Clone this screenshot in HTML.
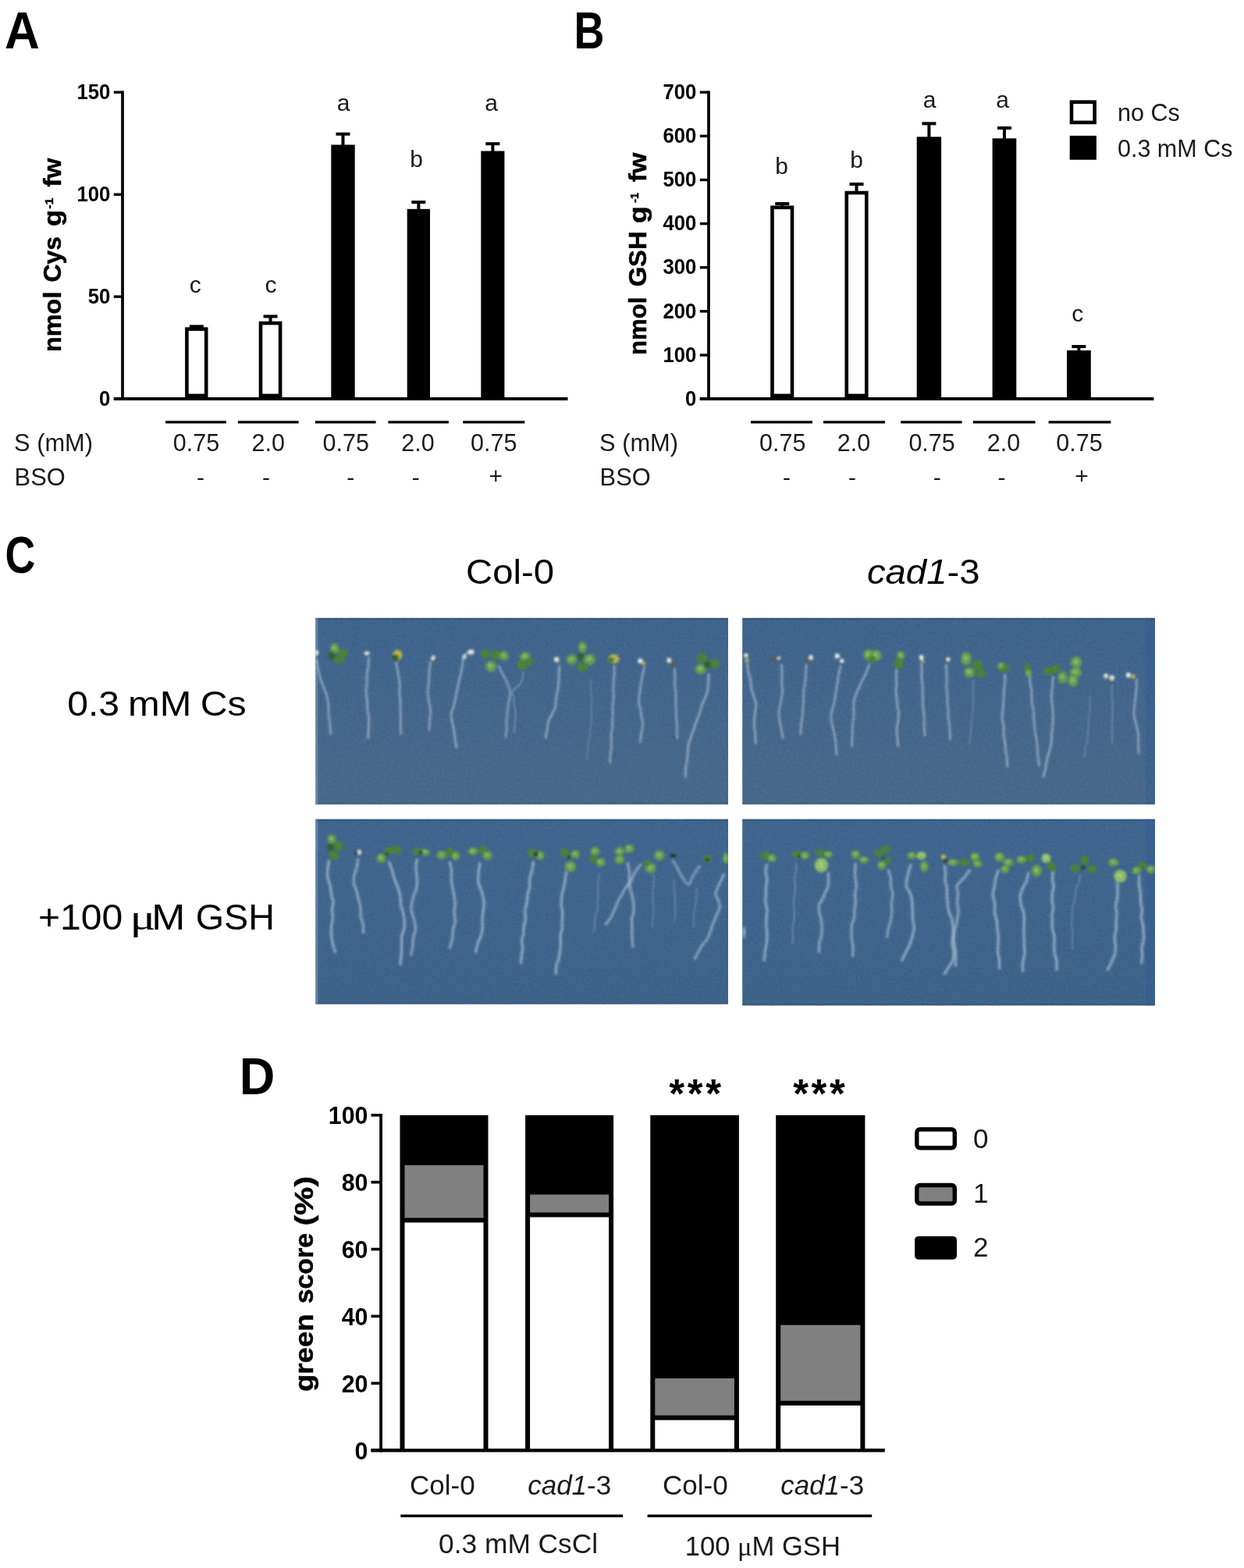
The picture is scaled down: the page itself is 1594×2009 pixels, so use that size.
<!DOCTYPE html>
<html lang="en">
<head>
<meta charset="utf-8">
<title>Figure</title>
<style>
html,body{margin:0;padding:0;background:#fff;}
body{width:1594px;height:2009px;overflow:hidden;}
svg{display:block;}
text{font-family:"Liberation Sans",sans-serif;fill:#1a1a1a;}
.b{font-weight:bold;fill:#000;}
.yl{stroke:#000;stroke-width:0.5px;}
.pl{font-weight:bold;fill:#000;}
.i{font-style:italic;}
.ax{stroke:#000;fill:none;}
</style>
</head>
<body>
<svg width="1594" height="2009" viewBox="0 0 1594 2009">
<rect width="1594" height="2009" fill="#fff"/>
<text x="5.9" y="61.6" font-size="66" class="pl" textLength="44.8" lengthAdjust="spacingAndGlyphs">A</text>
<text x="735.5" y="61.6" font-size="66" class="pl" textLength="39" lengthAdjust="spacingAndGlyphs">B</text>
<text x="6.5" y="733.6" font-size="66" class="pl" textLength="38.8" lengthAdjust="spacingAndGlyphs">C</text>
<text x="306.8" y="1402.3" font-size="66" class="pl" textLength="45.6" lengthAdjust="spacingAndGlyphs">D</text>
<line x1="157" y1="116.5" x2="157" y2="513.1" stroke="#000" stroke-width="3.7"/>
<line x1="145.8" y1="511.1" x2="727.5" y2="511.1" stroke="#000" stroke-width="4"/>
<line x1="145.8" y1="118.2" x2="157" y2="118.2" stroke="#000" stroke-width="3.4"/>
<text x="141.4" y="126.9" font-size="27" text-anchor="end" class="b" textLength="43.0" lengthAdjust="spacingAndGlyphs">150</text>
<line x1="145.8" y1="249.2" x2="157" y2="249.2" stroke="#000" stroke-width="3.4"/>
<text x="141.4" y="257.9" font-size="27" text-anchor="end" class="b" textLength="43.0" lengthAdjust="spacingAndGlyphs">100</text>
<line x1="145.8" y1="380.1" x2="157" y2="380.1" stroke="#000" stroke-width="3.4"/>
<text x="141.4" y="388.8" font-size="27" text-anchor="end" class="b" textLength="28.7" lengthAdjust="spacingAndGlyphs">50</text>
<line x1="145.8" y1="511.1" x2="157" y2="511.1" stroke="#000" stroke-width="3.4"/>
<text x="141.4" y="519.8000000000001" font-size="27" text-anchor="end" class="b" textLength="14.3" lengthAdjust="spacingAndGlyphs">0</text>
<line x1="251.8" y1="418.3" x2="251.8" y2="421.3" stroke="#000" stroke-width="4"/>
<line x1="242.8" y1="418.3" x2="260.8" y2="418.3" stroke="#000" stroke-width="4"/>
<rect x="239.40" y="421.60" width="24.80" height="85.30" fill="#fff" stroke="#000" stroke-width="4.6"/>
<line x1="346.54999999999995" y1="405.4" x2="346.54999999999995" y2="413.7" stroke="#000" stroke-width="4"/>
<line x1="337.54999999999995" y1="405.4" x2="355.54999999999995" y2="405.4" stroke="#000" stroke-width="4"/>
<rect x="334.00" y="414.00" width="25.10" height="92.90" fill="#fff" stroke="#000" stroke-width="4.6"/>
<line x1="439.5" y1="171.7" x2="439.5" y2="187.5" stroke="#000" stroke-width="4"/>
<line x1="430.5" y1="171.7" x2="448.5" y2="171.7" stroke="#000" stroke-width="4"/>
<rect x="424.30" y="185.50" width="30.40" height="325.60" fill="#000"/>
<line x1="536.35" y1="259" x2="536.35" y2="269.8" stroke="#000" stroke-width="4"/>
<line x1="527.35" y1="259" x2="545.35" y2="259" stroke="#000" stroke-width="4"/>
<rect x="521.70" y="267.80" width="29.30" height="243.30" fill="#000"/>
<line x1="631.3499999999999" y1="184.2" x2="631.3499999999999" y2="195.5" stroke="#000" stroke-width="4"/>
<line x1="622.3499999999999" y1="184.2" x2="640.3499999999999" y2="184.2" stroke="#000" stroke-width="4"/>
<rect x="616.30" y="193.50" width="30.10" height="317.60" fill="#000"/>
<text x="250.3" y="375" font-size="30" text-anchor="middle">c</text>
<text x="346.9" y="375" font-size="30" text-anchor="middle">c</text>
<text x="440.2" y="142" font-size="30" text-anchor="middle">a</text>
<text x="533.6" y="214" font-size="30" text-anchor="middle">b</text>
<text x="629.5" y="142" font-size="30" text-anchor="middle">a</text>
<line x1="212" y1="540.9" x2="289.8" y2="540.9" stroke="#000" stroke-width="3.4"/>
<line x1="304.9" y1="540.9" x2="382.7" y2="540.9" stroke="#000" stroke-width="3.4"/>
<line x1="403.8" y1="540.9" x2="481.6" y2="540.9" stroke="#000" stroke-width="3.4"/>
<line x1="497.4" y1="540.9" x2="574.9" y2="540.9" stroke="#000" stroke-width="3.4"/>
<line x1="593.2" y1="540.9" x2="672.3" y2="540.9" stroke="#000" stroke-width="3.4"/>
<text x="251.5" y="578.3" font-size="30.5" text-anchor="middle">0.75</text>
<text x="343.8" y="578.3" font-size="30.5" text-anchor="middle">2.0</text>
<text x="443.3" y="578.3" font-size="30.5" text-anchor="middle">0.75</text>
<text x="535.5" y="578.3" font-size="30.5" text-anchor="middle">2.0</text>
<text x="632.7" y="578.3" font-size="30.5" text-anchor="middle">0.75</text>
<text x="257" y="622" font-size="30" text-anchor="middle">-</text>
<text x="341" y="622" font-size="30" text-anchor="middle">-</text>
<text x="449.3" y="622" font-size="30" text-anchor="middle">-</text>
<text x="532.7" y="622" font-size="30" text-anchor="middle">-</text>
<text x="635.3" y="619.8" font-size="30" text-anchor="middle">+</text>
<text x="18.1" y="578.3" font-size="30.8" text-anchor="start">S (mM)</text>
<text x="18.6" y="621.5" font-size="30.8" text-anchor="start">BSO</text>
<text transform="translate(78,451) rotate(-90)" font-size="30.5" class="b yl"><tspan x="0.0" y="0.0" textLength="77.4" lengthAdjust="spacingAndGlyphs">nmol</tspan> <tspan x="89.4" y="0.0" textLength="58.6" lengthAdjust="spacingAndGlyphs">Cys</tspan> <tspan x="160.9" y="0.0" textLength="21.2" lengthAdjust="spacingAndGlyphs">g</tspan><tspan x="183.6" y="-10.5" font-size="15.5">-1</tspan> <tspan x="211.4" y="0.0" textLength="36.9" lengthAdjust="spacingAndGlyphs">fw</tspan></text>
<line x1="908" y1="116.5" x2="908" y2="513.1" stroke="#000" stroke-width="3.7"/>
<line x1="896.8" y1="511.1" x2="1478.4" y2="511.1" stroke="#000" stroke-width="4"/>
<line x1="896.8" y1="118.2" x2="908" y2="118.2" stroke="#000" stroke-width="3.4"/>
<text x="892.4" y="126.9" font-size="27" text-anchor="end" class="b" textLength="43.0" lengthAdjust="spacingAndGlyphs">700</text>
<line x1="896.8" y1="174.33" x2="908" y2="174.33" stroke="#000" stroke-width="3.4"/>
<text x="892.4" y="183.03" font-size="27" text-anchor="end" class="b" textLength="43.0" lengthAdjust="spacingAndGlyphs">600</text>
<line x1="896.8" y1="230.46" x2="908" y2="230.46" stroke="#000" stroke-width="3.4"/>
<text x="892.4" y="239.16" font-size="27" text-anchor="end" class="b" textLength="43.0" lengthAdjust="spacingAndGlyphs">500</text>
<line x1="896.8" y1="286.59000000000003" x2="908" y2="286.59000000000003" stroke="#000" stroke-width="3.4"/>
<text x="892.4" y="295.29" font-size="27" text-anchor="end" class="b" textLength="43.0" lengthAdjust="spacingAndGlyphs">400</text>
<line x1="896.8" y1="342.72" x2="908" y2="342.72" stroke="#000" stroke-width="3.4"/>
<text x="892.4" y="351.42" font-size="27" text-anchor="end" class="b" textLength="43.0" lengthAdjust="spacingAndGlyphs">300</text>
<line x1="896.8" y1="398.85" x2="908" y2="398.85" stroke="#000" stroke-width="3.4"/>
<text x="892.4" y="407.55" font-size="27" text-anchor="end" class="b" textLength="43.0" lengthAdjust="spacingAndGlyphs">200</text>
<line x1="896.8" y1="454.98" x2="908" y2="454.98" stroke="#000" stroke-width="3.4"/>
<text x="892.4" y="463.68" font-size="27" text-anchor="end" class="b" textLength="43.0" lengthAdjust="spacingAndGlyphs">100</text>
<line x1="896.8" y1="511.11" x2="908" y2="511.11" stroke="#000" stroke-width="3.4"/>
<text x="892.4" y="519.8100000000001" font-size="27" text-anchor="end" class="b" textLength="14.3" lengthAdjust="spacingAndGlyphs">0</text>
<line x1="1002.25" y1="261" x2="1002.25" y2="265.5" stroke="#000" stroke-width="4"/>
<line x1="993.25" y1="261" x2="1011.25" y2="261" stroke="#000" stroke-width="4"/>
<rect x="989.50" y="265.80" width="25.50" height="241.10" fill="#fff" stroke="#000" stroke-width="4.6"/>
<line x1="1097.55" y1="235.9" x2="1097.55" y2="246.7" stroke="#000" stroke-width="4"/>
<line x1="1088.55" y1="235.9" x2="1106.55" y2="235.9" stroke="#000" stroke-width="4"/>
<rect x="1084.80" y="247.00" width="25.50" height="259.90" fill="#fff" stroke="#000" stroke-width="4.6"/>
<line x1="1190.4" y1="158.3" x2="1190.4" y2="177.3" stroke="#000" stroke-width="4"/>
<line x1="1181.4" y1="158.3" x2="1199.4" y2="158.3" stroke="#000" stroke-width="4"/>
<rect x="1174.70" y="175.30" width="31.40" height="335.80" fill="#000"/>
<line x1="1286.9499999999998" y1="164" x2="1286.9499999999998" y2="179.3" stroke="#000" stroke-width="4"/>
<line x1="1277.9499999999998" y1="164" x2="1295.9499999999998" y2="164" stroke="#000" stroke-width="4"/>
<rect x="1271.60" y="177.30" width="30.70" height="333.80" fill="#000"/>
<line x1="1382.4" y1="444" x2="1382.4" y2="450.9" stroke="#000" stroke-width="4"/>
<line x1="1373.4" y1="444" x2="1391.4" y2="444" stroke="#000" stroke-width="4"/>
<rect x="1367.00" y="448.90" width="30.80" height="62.20" fill="#000"/>
<text x="1001.6" y="223" font-size="30" text-anchor="middle">b</text>
<text x="1097.5" y="214.5" font-size="30" text-anchor="middle">b</text>
<text x="1191.2" y="138.3" font-size="30" text-anchor="middle">a</text>
<text x="1284.6" y="138.3" font-size="30" text-anchor="middle">a</text>
<text x="1380.7" y="411.8" font-size="30" text-anchor="middle">c</text>
<line x1="962" y1="540.9" x2="1041" y2="540.9" stroke="#000" stroke-width="3.4"/>
<line x1="1055" y1="540.9" x2="1134" y2="540.9" stroke="#000" stroke-width="3.4"/>
<line x1="1154.2" y1="540.9" x2="1232.6" y2="540.9" stroke="#000" stroke-width="3.4"/>
<line x1="1246.8" y1="540.9" x2="1326.6" y2="540.9" stroke="#000" stroke-width="3.4"/>
<line x1="1343.6" y1="540.9" x2="1423.4" y2="540.9" stroke="#000" stroke-width="3.4"/>
<text x="1002.8" y="578.3" font-size="30.5" text-anchor="middle">0.75</text>
<text x="1094" y="578.3" font-size="30.5" text-anchor="middle">2.0</text>
<text x="1194.1" y="578.3" font-size="30.5" text-anchor="middle">0.75</text>
<text x="1286" y="578.3" font-size="30.5" text-anchor="middle">2.0</text>
<text x="1383" y="578.3" font-size="30.5" text-anchor="middle">0.75</text>
<text x="1008" y="622" font-size="30" text-anchor="middle">-</text>
<text x="1092" y="622" font-size="30" text-anchor="middle">-</text>
<text x="1200.7" y="622" font-size="30" text-anchor="middle">-</text>
<text x="1283.5" y="622" font-size="30" text-anchor="middle">-</text>
<text x="1386" y="619.8" font-size="30" text-anchor="middle">+</text>
<text x="768.1" y="578.3" font-size="30.8" text-anchor="start">S (mM)</text>
<text x="768.6" y="621.5" font-size="30.8" text-anchor="start">BSO</text>
<text transform="translate(828,455.1) rotate(-90)" font-size="30.5" class="b yl"><tspan x="0.0" y="0.0" textLength="74.5" lengthAdjust="spacingAndGlyphs">nmol</tspan> <tspan x="87.8" y="0.0" textLength="70.8" lengthAdjust="spacingAndGlyphs">GSH</tspan> <tspan x="169.1" y="0.0" textLength="21.7" lengthAdjust="spacingAndGlyphs">g</tspan><tspan x="195.4" y="-10.5" font-size="14.5">-1</tspan> <tspan x="221.9" y="0.0" textLength="37.6" lengthAdjust="spacingAndGlyphs">fw</tspan></text>
<rect x="1373.00" y="130.70" width="29.60" height="26.20" fill="#fff" stroke="#000" stroke-width="4.6"/>
<rect x="1370.70" y="173.90" width="34.20" height="30.80" fill="#000"/>
<text x="1432" y="155.4" font-size="30.5" text-anchor="start">no Cs</text>
<text x="1432" y="201" font-size="30.5" text-anchor="start">0.3 mM Cs</text>
<text x="653.5" y="747.8" font-size="45" text-anchor="middle" textLength="113" lengthAdjust="spacingAndGlyphs" style="fill:#000">Col-0</text>
<text x="1183.2" y="747.8" font-size="45" text-anchor="middle" textLength="144.6" lengthAdjust="spacingAndGlyphs" style="fill:#000"><tspan class="i">cad1</tspan>-3</text>
<text y="917.3" font-size="45" style="fill:#000"><tspan x="86.2" textLength="66.9" lengthAdjust="spacingAndGlyphs">0.3</tspan> <tspan x="164" textLength="81.3" lengthAdjust="spacingAndGlyphs">mM</tspan> <tspan x="256.8" textLength="58.9" lengthAdjust="spacingAndGlyphs">Cs</tspan></text>
<text y="1191.3" font-size="45.5" style="fill:#000"><tspan x="49" textLength="108.2" lengthAdjust="spacingAndGlyphs">+100</tspan> <tspan x="166.6" font-family="'Liberation Serif',serif" textLength="33" lengthAdjust="spacingAndGlyphs">μ</tspan><tspan x="194.2" textLength="43" lengthAdjust="spacingAndGlyphs">M</tspan> <tspan x="250.8" textLength="101.1" lengthAdjust="spacingAndGlyphs">GSH</tspan></text>
<defs>
<linearGradient id="bg" x1="0" y1="0" x2="0" y2="1"><stop offset="0" stop-color="#3f648d"/><stop offset="1" stop-color="#49698a"/></linearGradient>
<linearGradient id="bgb" x1="0" y1="0" x2="0" y2="1"><stop offset="0" stop-color="#40668f"/><stop offset="1" stop-color="#3e6389"/></linearGradient>
<filter id="bl" x="-20%" y="-20%" width="140%" height="140%"><feGaussianBlur stdDeviation="1.15"/></filter>
<filter id="bl2" x="-50%" y="-50%" width="200%" height="200%"><feGaussianBlur stdDeviation="1.7"/></filter>
<filter id="grain" x="0" y="0" width="100%" height="100%"><feTurbulence type="fractalNoise" baseFrequency="0.35" numOctaves="2" seed="7" result="n"/><feColorMatrix in="n" type="matrix" values="0 0 0 0 1  0 0 0 0 1  0 0 0 0 1  0.9 0 0 0 -0.38"/></filter>
<filter id="grain2" x="0" y="0" width="100%" height="100%"><feTurbulence type="fractalNoise" baseFrequency="0.3" numOctaves="2" seed="23" result="n"/><feColorMatrix in="n" type="matrix" values="0 0 0 0 0  0 0 0 0 0.05  0 0 0 0 0.15  0.9 0 0 0 -0.38"/></filter>
</defs>
<g id="photo1">
<clipPath id="cp0"><rect x="404.2" y="791.8" width="528.8" height="238.8"/></clipPath>
<rect x="404.2" y="791.8" width="528.8" height="238.8" fill="url(#bg)"/>
<rect x="404.2" y="791.8" width="528.8" height="2.2" fill="#1d2c40" opacity="0.28"/>
<rect x="404.2" y="1028.6" width="528.8" height="2" fill="#1d2c40" opacity="0.18"/>
<rect x="404.2" y="791.8" width="3.2" height="238.8" fill="#c8d2e0" opacity="0.28"/>
<g clip-path="url(#cp0)">
<g filter="url(#bl)" fill="none" stroke="#b3c3d9" stroke-width="2.7" stroke-linecap="round" stroke-linejoin="round">
<path d="M405.8,846.8 C406.2,848.8 407.1,855.0 408.0,859.1 C408.9,863.2 409.8,867.3 411.1,871.3 C412.4,875.4 414.4,879.4 415.9,883.5 C417.3,887.6 419.1,892.0 419.9,895.9 C420.7,899.8 420.5,903.2 420.7,906.9 C421.0,910.6 420.8,914.3 421.2,917.9 C421.6,921.6 422.6,925.2 422.9,928.8 C423.3,932.5 423.3,938.0 423.4,939.8" stroke-opacity="0.11" stroke-width="6.2"/>
<path d="M405.8,846.8 C406.2,848.8 407.1,855.0 408.0,859.1 C408.9,863.2 409.8,867.3 411.1,871.3 C412.4,875.4 414.4,879.4 415.9,883.5 C417.3,887.6 419.1,892.0 419.9,895.9 C420.7,899.8 420.5,903.2 420.7,906.9 C421.0,910.6 420.8,914.3 421.2,917.9 C421.6,921.6 422.6,925.2 422.9,928.8 C423.3,932.5 423.3,938.0 423.4,939.8" stroke-opacity="0.52" stroke-width="2.7"/>
<path d="M472.6,843.2 C472.4,845.0 472.2,850.3 471.9,853.8 C471.5,857.3 470.6,860.8 470.3,864.3 C470.0,867.8 470.4,871.4 470.2,874.9 C470.0,878.4 469.0,881.7 469.0,885.4 C469.1,889.1 470.1,893.2 470.4,897.1 C470.7,901.0 470.5,905.0 470.9,908.9 C471.3,912.8 472.3,916.5 472.6,920.5 C472.8,924.5 472.5,928.7 472.4,932.8 C472.2,936.9 471.6,943.1 471.5,945.1" stroke-opacity="0.12" stroke-width="6.2"/>
<path d="M472.6,843.2 C472.4,845.0 472.2,850.3 471.9,853.8 C471.5,857.3 470.6,860.8 470.3,864.3 C470.0,867.8 470.4,871.4 470.2,874.9 C470.0,878.4 469.0,881.7 469.0,885.4 C469.1,889.1 470.1,893.2 470.4,897.1 C470.7,901.0 470.5,905.0 470.9,908.9 C471.3,912.8 472.3,916.5 472.6,920.5 C472.8,924.5 472.5,928.7 472.4,932.8 C472.2,936.9 471.6,943.1 471.5,945.1" stroke-opacity="0.55" stroke-width="2.7"/>
<path d="M507.7,848.5 C508.0,850.2 508.8,855.1 509.3,858.4 C509.9,861.7 510.6,865.0 511.1,868.4 C511.6,871.7 512.1,874.9 512.3,878.4 C512.4,881.8 511.9,885.4 512.0,888.9 C512.1,892.4 512.7,895.9 512.9,899.4 C513.0,903.0 512.9,906.6 513.0,910.0 C513.1,913.4 513.5,916.6 513.5,919.9 C513.5,923.3 512.9,926.6 512.9,929.9 C513.0,933.2 513.5,938.2 513.7,939.8" stroke-opacity="0.11" stroke-width="6.2"/>
<path d="M507.7,848.5 C508.0,850.2 508.8,855.1 509.3,858.4 C509.9,861.7 510.6,865.0 511.1,868.4 C511.6,871.7 512.1,874.9 512.3,878.4 C512.4,881.8 511.9,885.4 512.0,888.9 C512.1,892.4 512.7,895.9 512.9,899.4 C513.0,903.0 512.9,906.6 513.0,910.0 C513.1,913.4 513.5,916.6 513.5,919.9 C513.5,923.3 512.9,926.6 512.9,929.9 C513.0,933.2 513.5,938.2 513.7,939.8" stroke-opacity="0.52" stroke-width="2.7"/>
<path d="M551.6,848.5 C551.4,850.0 550.6,854.6 550.3,857.7 C550.0,860.8 549.9,863.9 549.8,866.9 C549.6,870.0 549.7,873.1 549.4,876.2 C549.1,879.3 548.1,881.8 548.1,885.4 C548.1,889.0 548.9,893.7 549.4,897.7 C550.0,901.8 551.4,905.9 551.6,910.0 C551.8,914.1 551.0,918.2 550.7,922.3 C550.4,926.4 550.0,932.5 549.8,934.6" stroke-opacity="0.11" stroke-width="6.2"/>
<path d="M551.6,848.5 C551.4,850.0 550.6,854.6 550.3,857.7 C550.0,860.8 549.9,863.9 549.8,866.9 C549.6,870.0 549.7,873.1 549.4,876.2 C549.1,879.3 548.1,881.8 548.1,885.4 C548.1,889.0 548.9,893.7 549.4,897.7 C550.0,901.8 551.4,905.9 551.6,910.0 C551.8,914.1 551.0,918.2 550.7,922.3 C550.4,926.4 550.0,932.5 549.8,934.6" stroke-opacity="0.52" stroke-width="2.7"/>
<path d="M600.8,835.5 C599.6,836.5 595.1,838.9 593.8,841.5 C592.4,844.1 593.3,848.0 592.9,851.2 C592.4,854.4 591.7,857.3 591.0,860.8 C590.2,864.3 589.0,868.6 588.1,872.5 C587.2,876.4 586.4,880.3 585.6,884.2 C584.8,888.1 584.0,892.3 583.2,895.9 C582.5,899.5 582.0,902.5 581.1,905.7 C580.2,908.9 578.2,912.1 578.0,915.3 C577.7,918.5 578.9,921.7 579.4,925.0 C580.0,928.2 580.9,931.1 581.5,934.6 C582.1,938.1 582.4,942.2 583.0,946.0 C583.6,949.8 584.7,955.5 585.0,957.4" stroke-opacity="0.12" stroke-width="6.2"/>
<path d="M600.8,835.5 C599.6,836.5 595.1,838.9 593.8,841.5 C592.4,844.1 593.3,848.0 592.9,851.2 C592.4,854.4 591.7,857.3 591.0,860.8 C590.2,864.3 589.0,868.6 588.1,872.5 C587.2,876.4 586.4,880.3 585.6,884.2 C584.8,888.1 584.0,892.3 583.2,895.9 C582.5,899.5 582.0,902.5 581.1,905.7 C580.2,908.9 578.2,912.1 578.0,915.3 C577.7,918.5 578.9,921.7 579.4,925.0 C580.0,928.2 580.9,931.1 581.5,934.6 C582.1,938.1 582.4,942.2 583.0,946.0 C583.6,949.8 584.7,955.5 585.0,957.4" stroke-opacity="0.55" stroke-width="2.7"/>
<path d="M639.4,853.8 C640.1,855.3 642.0,859.8 643.5,862.7 C644.9,865.7 646.6,867.6 648.2,871.3 C649.9,875.1 652.7,881.5 653.5,885.4 C654.2,889.3 653.2,891.7 652.8,894.8 C652.4,897.9 651.5,901.0 651.1,904.1 C650.6,907.2 650.3,910.3 650.0,913.5 C649.6,916.7 649.1,920.1 649.0,923.4 C648.9,926.8 649.4,930.1 649.3,933.4 C649.1,936.8 648.4,941.7 648.2,943.4" stroke-opacity="0.10" stroke-width="6.2"/>
<path d="M639.4,853.8 C640.1,855.3 642.0,859.8 643.5,862.7 C644.9,865.7 646.6,867.6 648.2,871.3 C649.9,875.1 652.7,881.5 653.5,885.4 C654.2,889.3 653.2,891.7 652.8,894.8 C652.4,897.9 651.5,901.0 651.1,904.1 C650.6,907.2 650.3,910.3 650.0,913.5 C649.6,916.7 649.1,920.1 649.0,923.4 C648.9,926.8 649.4,930.1 649.3,933.4 C649.1,936.8 648.4,941.7 648.2,943.4" stroke-opacity="0.44" stroke-width="2.7"/>
<path d="M671.1,860.8 C670.5,863.1 669.9,870.8 667.5,874.9 C665.2,879.0 658.5,882.1 657.0,885.4 C655.5,888.7 658.0,891.6 658.3,894.7 C658.6,897.9 658.5,901.1 658.9,904.2 C659.2,907.3 660.3,909.9 660.5,913.5 C660.7,917.1 660.3,921.7 660.0,925.8 C659.7,929.9 659.0,936.0 658.8,938.1" stroke-opacity="0.37" stroke-width="2.2"/>
<path d="M716.7,853.8 C716.7,855.3 716.5,860.0 716.3,863.2 C716.2,866.3 716.1,869.4 715.8,872.5 C715.6,875.7 715.5,878.3 715.0,881.9 C714.4,885.5 713.3,890.0 712.7,894.1 C712.1,898.2 712.4,902.9 711.5,906.5 C710.5,910.0 708.7,912.4 707.3,915.4 C705.8,918.3 703.7,920.8 702.7,924.0 C701.7,927.3 701.8,931.1 701.2,934.6 C700.6,938.1 699.5,943.4 699.2,945.1" stroke-opacity="0.12" stroke-width="6.2"/>
<path d="M716.7,853.8 C716.7,855.3 716.5,860.0 716.3,863.2 C716.2,866.3 716.1,869.4 715.8,872.5 C715.6,875.7 715.5,878.3 715.0,881.9 C714.4,885.5 713.3,890.0 712.7,894.1 C712.1,898.2 712.4,902.9 711.5,906.5 C710.5,910.0 708.7,912.4 707.3,915.4 C705.8,918.3 703.7,920.8 702.7,924.0 C701.7,927.3 701.8,931.1 701.2,934.6 C700.6,938.1 699.5,943.4 699.2,945.1" stroke-opacity="0.55" stroke-width="2.7"/>
<path d="M757.1,871.3 C757.1,873.0 756.8,877.9 756.9,881.2 C757.0,884.5 757.4,887.7 757.6,891.0 C757.8,894.3 758.2,897.6 758.2,900.8 C758.2,904.1 757.5,907.4 757.5,910.7 C757.5,914.0 758.3,917.1 758.2,920.5 C758.1,923.9 757.3,927.5 756.9,931.1 C756.6,934.6 756.6,938.2 756.1,941.7 C755.6,945.2 754.4,948.6 753.9,952.1 C753.5,955.6 753.5,959.2 753.2,962.7 C752.8,966.2 752.1,971.5 751.9,973.2" stroke-opacity="0.22" stroke-width="2.2"/>
<path d="M787.0,853.8 C787.0,855.4 787.3,860.4 787.2,863.7 C787.0,867.1 786.3,870.4 786.1,873.7 C785.9,877.0 785.9,880.3 785.9,883.6 C786.0,887.0 786.4,890.3 786.3,893.6 C786.2,896.9 785.4,900.2 785.2,903.5 C785.0,906.9 785.3,910.3 785.2,913.5 C785.1,916.7 784.7,919.5 784.6,922.5 C784.5,925.5 784.9,928.6 784.7,931.6 C784.5,934.6 783.7,937.6 783.4,940.6 C783.1,943.6 783.1,946.6 783.1,949.6 C783.0,952.6 783.4,955.7 783.2,958.7 C783.0,961.7 782.1,964.7 781.9,967.7 C781.6,970.7 781.7,975.2 781.7,976.7" stroke-opacity="0.11" stroke-width="6.2"/>
<path d="M787.0,853.8 C787.0,855.4 787.3,860.4 787.2,863.7 C787.0,867.1 786.3,870.4 786.1,873.7 C785.9,877.0 785.9,880.3 785.9,883.6 C786.0,887.0 786.4,890.3 786.3,893.6 C786.2,896.9 785.4,900.2 785.2,903.5 C785.0,906.9 785.3,910.3 785.2,913.5 C785.1,916.7 784.7,919.5 784.6,922.5 C784.5,925.5 784.9,928.6 784.7,931.6 C784.5,934.6 783.7,937.6 783.4,940.6 C783.1,943.6 783.1,946.6 783.1,949.6 C783.0,952.6 783.4,955.7 783.2,958.7 C783.0,961.7 782.1,964.7 781.9,967.7 C781.6,970.7 781.7,975.2 781.7,976.7" stroke-opacity="0.52" stroke-width="2.7"/>
<path d="M825.6,855.5 C825.1,857.7 823.5,864.3 822.7,868.6 C821.8,873.0 821.0,876.7 820.4,881.9 C819.7,887.0 818.5,895.0 818.6,899.4 C818.7,903.9 820.3,905.6 820.8,908.7 C821.4,911.9 821.5,915.1 822.0,918.2 C822.5,921.4 823.9,924.1 823.9,927.6 C823.8,931.0 822.4,935.1 821.8,938.9 C821.2,942.7 820.6,948.5 820.4,950.4" stroke-opacity="0.11" stroke-width="6.2"/>
<path d="M825.6,855.5 C825.1,857.7 823.5,864.3 822.7,868.6 C821.8,873.0 821.0,876.7 820.4,881.9 C819.7,887.0 818.5,895.0 818.6,899.4 C818.7,903.9 820.3,905.6 820.8,908.7 C821.4,911.9 821.5,915.1 822.0,918.2 C822.5,921.4 823.9,924.1 823.9,927.6 C823.8,931.0 822.4,935.1 821.8,938.9 C821.2,942.7 820.6,948.5 820.4,950.4" stroke-opacity="0.52" stroke-width="2.7"/>
<path d="M864.3,857.3 C864.4,859.0 864.7,864.3 864.8,867.8 C864.8,871.3 864.5,874.9 864.7,878.4 C864.9,881.9 865.8,885.4 866.0,888.9 C866.2,892.4 866.0,896.2 866.0,899.4 C866.1,902.7 866.4,905.5 866.4,908.6 C866.5,911.6 866.1,914.7 866.3,917.7 C866.5,920.8 867.3,923.8 867.5,926.8 C867.7,929.9 867.4,932.9 867.5,936.0 C867.5,939.0 867.7,943.6 867.8,945.1" stroke-opacity="0.11" stroke-width="6.2"/>
<path d="M864.3,857.3 C864.4,859.0 864.7,864.3 864.8,867.8 C864.8,871.3 864.5,874.9 864.7,878.4 C864.9,881.9 865.8,885.4 866.0,888.9 C866.2,892.4 866.0,896.2 866.0,899.4 C866.1,902.7 866.4,905.5 866.4,908.6 C866.5,911.6 866.1,914.7 866.3,917.7 C866.5,920.8 867.3,923.8 867.5,926.8 C867.7,929.9 867.4,932.9 867.5,936.0 C867.5,939.0 867.7,943.6 867.8,945.1" stroke-opacity="0.52" stroke-width="2.7"/>
<path d="M908.2,864.3 C908.1,866.1 907.9,871.4 907.6,874.9 C907.3,878.4 907.2,882.0 906.4,885.4 C905.7,888.8 904.4,891.9 903.1,895.1 C901.9,898.3 900.1,901.3 898.9,904.5 C897.8,907.8 897.3,911.2 896.2,914.5 C895.1,917.7 893.6,920.7 892.4,924.0 C891.2,927.4 890.3,931.2 889.1,934.6 C887.8,938.1 886.1,941.5 884.9,945.0 C883.7,948.5 882.5,952.3 881.8,955.7 C881.2,959.1 881.5,962.1 881.3,965.3 C881.0,968.6 880.7,971.8 880.3,975.0 C879.9,978.2 879.0,981.4 878.7,984.6 C878.4,987.8 878.4,992.7 878.3,994.3" stroke-opacity="0.12" stroke-width="6.2"/>
<path d="M908.2,864.3 C908.1,866.1 907.9,871.4 907.6,874.9 C907.3,878.4 907.2,882.0 906.4,885.4 C905.7,888.8 904.4,891.9 903.1,895.1 C901.9,898.3 900.1,901.3 898.9,904.5 C897.8,907.8 897.3,911.2 896.2,914.5 C895.1,917.7 893.6,920.7 892.4,924.0 C891.2,927.4 890.3,931.2 889.1,934.6 C887.8,938.1 886.1,941.5 884.9,945.0 C883.7,948.5 882.5,952.3 881.8,955.7 C881.2,959.1 881.5,962.1 881.3,965.3 C881.0,968.6 880.7,971.8 880.3,975.0 C879.9,978.2 879.0,981.4 878.7,984.6 C878.4,987.8 878.4,992.7 878.3,994.3" stroke-opacity="0.55" stroke-width="2.7"/>
</g>
<g filter="url(#bl2)">
<ellipse cx="428.6" cy="830.9" rx="5.6" ry="6.6" fill="#68a048"/>
<ellipse cx="428.0" cy="830.1" rx="1.9" ry="2.3" fill="#c4dcae" opacity="0.5"/>
<ellipse cx="439.2" cy="836.9" rx="6.6" ry="6.1" fill="#4a8239"/>
<ellipse cx="435.0" cy="845.0" rx="6.6" ry="5.1" fill="#4a8239"/>
<ellipse cx="425.1" cy="840.4" rx="4.6" ry="5.1" fill="#335f2b"/>
<ellipse cx="509.4" cy="839.0" rx="6.1" ry="6.6" fill="#b9b54a"/>
<ellipse cx="506.6" cy="842.5" rx="4.1" ry="4.1" fill="#335f2b"/>
<ellipse cx="621.9" cy="838.0" rx="6.1" ry="6.1" fill="#4a8239"/>
<ellipse cx="635.9" cy="839.0" rx="7.1" ry="6.1" fill="#4a8239"/>
<ellipse cx="645.8" cy="840.4" rx="6.1" ry="6.1" fill="#68a048"/>
<ellipse cx="645.2" cy="839.6" rx="2.1" ry="2.1" fill="#c4dcae" opacity="0.5"/>
<ellipse cx="628.9" cy="853.8" rx="7.1" ry="7.1" fill="#68a048"/>
<ellipse cx="628.3" cy="853.0" rx="2.5" ry="2.5" fill="#c4dcae" opacity="0.5"/>
<ellipse cx="672.8" cy="841.5" rx="6.6" ry="6.6" fill="#68a048"/>
<ellipse cx="672.2" cy="840.7" rx="2.3" ry="2.3" fill="#c4dcae" opacity="0.5"/>
<ellipse cx="669.3" cy="852.0" rx="6.6" ry="6.6" fill="#4a8239"/>
<ellipse cx="678.8" cy="847.5" rx="5.1" ry="5.1" fill="#4a8239"/>
<ellipse cx="732.5" cy="845.0" rx="6.6" ry="6.6" fill="#68a048"/>
<ellipse cx="731.9" cy="844.2" rx="2.3" ry="2.3" fill="#c4dcae" opacity="0.5"/>
<ellipse cx="746.6" cy="829.2" rx="5.6" ry="7.1" fill="#68a048"/>
<ellipse cx="746.0" cy="828.4" rx="1.9" ry="2.5" fill="#c4dcae" opacity="0.5"/>
<ellipse cx="755.4" cy="845.0" rx="7.6" ry="7.1" fill="#68a048"/>
<ellipse cx="754.8" cy="844.2" rx="2.6" ry="2.5" fill="#c4dcae" opacity="0.5"/>
<ellipse cx="746.6" cy="854.5" rx="7.1" ry="6.1" fill="#4a8239"/>
<ellipse cx="744.1" cy="841.5" rx="4.6" ry="4.6" fill="#335f2b"/>
<ellipse cx="786.3" cy="844.3" rx="7.1" ry="6.1" fill="#b9b54a"/>
<ellipse cx="782.8" cy="846.0" rx="4.1" ry="4.1" fill="#4a8239"/>
<ellipse cx="899.4" cy="843.2" rx="7.1" ry="6.1" fill="#4a8239"/>
<ellipse cx="915.2" cy="850.3" rx="6.6" ry="6.1" fill="#4a8239"/>
<ellipse cx="897.7" cy="857.3" rx="7.1" ry="6.6" fill="#68a048"/>
<ellipse cx="897.1" cy="856.5" rx="2.5" ry="2.3" fill="#c4dcae" opacity="0.5"/>
<ellipse cx="906.4" cy="852.0" rx="4.6" ry="4.6" fill="#335f2b"/>
<ellipse cx="405.8" cy="836.2" rx="2.5" ry="3.5" fill="#e9ebe2"/>
<ellipse cx="470.1" cy="836.9" rx="3.5" ry="2.5" fill="#e9ebe2"/>
<ellipse cx="555.1" cy="843.2" rx="2.8" ry="3.2" fill="#e9ebe2"/>
<ellipse cx="557.9" cy="845.3" rx="2.1" ry="2.5" fill="#6b5238"/>
<ellipse cx="603.6" cy="835.5" rx="3.9" ry="3.2" fill="#e9ebe2"/>
<ellipse cx="595.5" cy="841.5" rx="2.1" ry="2.8" fill="#e9ebe2"/>
<ellipse cx="713.2" cy="845.0" rx="3.2" ry="3.5" fill="#e9ebe2"/>
<ellipse cx="715.3" cy="846.8" rx="1.8" ry="2.1" fill="#b9b54a"/>
<ellipse cx="820.4" cy="846.8" rx="3.2" ry="3.2" fill="#e9ebe2"/>
<ellipse cx="824.9" cy="850.3" rx="2.5" ry="2.5" fill="#b9b54a"/>
<ellipse cx="857.3" cy="846.0" rx="2.8" ry="3.2" fill="#e9ebe2"/>
<ellipse cx="861.5" cy="852.0" rx="2.5" ry="3.2" fill="#6b5238"/>
</g>
</g>
<rect x="404.2" y="791.8" width="528.8" height="238.8" filter="url(#grain)" opacity="0.11"/>
<rect x="404.2" y="791.8" width="528.8" height="238.8" filter="url(#grain2)" opacity="0.3"/>
</g>
<g id="photo2">
<clipPath id="cp1"><rect x="951.2" y="791.8" width="528.8" height="238.8"/></clipPath>
<rect x="951.2" y="791.8" width="528.8" height="238.8" fill="url(#bg)"/>
<rect x="951.2" y="791.8" width="528.8" height="2.2" fill="#1d2c40" opacity="0.28"/>
<rect x="951.2" y="1028.6" width="528.8" height="2" fill="#1d2c40" opacity="0.18"/>
<rect x="1468.0" y="791.8" width="12" height="238.8" fill="#2c5a94" opacity="0.3"/>
<g clip-path="url(#cp1)">
<g filter="url(#bl)" fill="none" stroke="#b3c3d9" stroke-width="2.7" stroke-linecap="round" stroke-linejoin="round">
<path d="M957.6,850.3 C957.8,852.0 958.2,857.4 958.9,860.9 C959.6,864.4 960.9,867.8 961.5,871.3 C962.2,874.8 962.1,878.4 962.8,881.9 C963.6,885.4 964.8,888.9 965.8,892.4 C966.8,895.9 968.6,899.2 968.8,903.0 C969.0,906.8 967.6,911.1 967.2,915.2 C966.7,919.3 966.3,923.5 966.3,927.6 C966.4,931.7 967.4,935.7 967.7,939.8 C968.0,943.9 968.0,950.1 968.1,952.1" stroke-opacity="0.12" stroke-width="6.2"/>
<path d="M957.6,850.3 C957.8,852.0 958.2,857.4 958.9,860.9 C959.6,864.4 960.9,867.8 961.5,871.3 C962.2,874.8 962.1,878.4 962.8,881.9 C963.6,885.4 964.8,888.9 965.8,892.4 C966.8,895.9 968.6,899.2 968.8,903.0 C969.0,906.8 967.6,911.1 967.2,915.2 C966.7,919.3 966.3,923.5 966.3,927.6 C966.4,931.7 967.4,935.7 967.7,939.8 C968.0,943.9 968.0,950.1 968.1,952.1" stroke-opacity="0.55" stroke-width="2.7"/>
<path d="M1001.5,852.0 C1001.6,853.9 1002.0,859.4 1002.0,863.1 C1002.1,866.9 1001.6,870.6 1001.7,874.3 C1001.8,878.0 1002.6,882.0 1002.5,885.4 C1002.5,888.8 1001.8,891.7 1001.3,894.8 C1000.8,897.9 1000.2,901.0 999.7,904.2 C999.1,907.3 997.8,909.0 998.0,913.5 C998.1,918.0 999.5,925.8 1000.4,931.1 C1001.3,936.3 1002.8,942.8 1003.2,945.1" stroke-opacity="0.11" stroke-width="6.2"/>
<path d="M1001.5,852.0 C1001.6,853.9 1002.0,859.4 1002.0,863.1 C1002.1,866.9 1001.6,870.6 1001.7,874.3 C1001.8,878.0 1002.6,882.0 1002.5,885.4 C1002.5,888.8 1001.8,891.7 1001.3,894.8 C1000.8,897.9 1000.2,901.0 999.7,904.2 C999.1,907.3 997.8,909.0 998.0,913.5 C998.1,918.0 999.5,925.8 1000.4,931.1 C1001.3,936.3 1002.8,942.8 1003.2,945.1" stroke-opacity="0.52" stroke-width="2.7"/>
<path d="M1033.1,852.0 C1033.0,853.9 1032.6,859.3 1032.4,863.0 C1032.1,866.7 1032.1,870.4 1031.7,874.0 C1031.3,877.7 1030.3,881.3 1030.0,884.9 C1029.6,888.6 1029.8,892.3 1029.6,895.9 C1029.4,899.6 1029.1,903.3 1028.9,906.9 C1028.6,910.6 1028.6,914.3 1028.2,917.9 C1027.8,921.6 1026.8,925.2 1026.5,928.8 C1026.1,932.5 1026.1,938.0 1026.1,939.8" stroke-opacity="0.11" stroke-width="6.2"/>
<path d="M1033.1,852.0 C1033.0,853.9 1032.6,859.3 1032.4,863.0 C1032.1,866.7 1032.1,870.4 1031.7,874.0 C1031.3,877.7 1030.3,881.3 1030.0,884.9 C1029.6,888.6 1029.8,892.3 1029.6,895.9 C1029.4,899.6 1029.1,903.3 1028.9,906.9 C1028.6,910.6 1028.6,914.3 1028.2,917.9 C1027.8,921.6 1026.8,925.2 1026.5,928.8 C1026.1,932.5 1026.1,938.0 1026.1,939.8" stroke-opacity="0.52" stroke-width="2.7"/>
<path d="M1077.0,853.8 C1076.6,855.7 1075.2,861.5 1074.5,865.4 C1073.8,869.3 1073.4,873.3 1072.7,877.2 C1072.1,881.1 1071.3,885.2 1070.7,888.9 C1070.1,892.6 1069.9,896.0 1069.1,899.5 C1068.4,903.0 1067.0,906.4 1066.3,909.9 C1065.6,913.4 1064.6,917.0 1064.7,920.5 C1064.8,924.1 1066.2,927.6 1067.0,931.1 C1067.7,934.6 1068.6,937.8 1069.3,941.6 C1070.0,945.4 1070.6,949.8 1071.0,953.9 C1071.4,958.0 1071.6,964.1 1071.7,966.2" stroke-opacity="0.11" stroke-width="6.2"/>
<path d="M1077.0,853.8 C1076.6,855.7 1075.2,861.5 1074.5,865.4 C1073.8,869.3 1073.4,873.3 1072.7,877.2 C1072.1,881.1 1071.3,885.2 1070.7,888.9 C1070.1,892.6 1069.9,896.0 1069.1,899.5 C1068.4,903.0 1067.0,906.4 1066.3,909.9 C1065.6,913.4 1064.6,917.0 1064.7,920.5 C1064.8,924.1 1066.2,927.6 1067.0,931.1 C1067.7,934.6 1068.6,937.8 1069.3,941.6 C1070.0,945.4 1070.6,949.8 1071.0,953.9 C1071.4,958.0 1071.6,964.1 1071.7,966.2" stroke-opacity="0.52" stroke-width="2.7"/>
<path d="M1113.9,852.0 C1113.1,854.0 1110.8,859.8 1109.1,863.6 C1107.3,867.5 1105.1,871.2 1103.4,874.9 C1101.6,878.5 1100.2,881.8 1098.7,885.3 C1097.3,888.8 1095.4,892.4 1094.6,895.9 C1093.8,899.5 1093.9,902.9 1093.8,906.5 C1093.6,910.0 1094.1,913.5 1093.9,917.0 C1093.8,920.6 1093.1,924.2 1092.8,927.6 C1092.5,930.9 1092.4,933.8 1092.2,936.9 C1092.0,940.0 1092.0,943.2 1091.9,946.3 C1091.8,949.4 1091.8,954.1 1091.8,955.7" stroke-opacity="0.11" stroke-width="6.2"/>
<path d="M1113.9,852.0 C1113.1,854.0 1110.8,859.8 1109.1,863.6 C1107.3,867.5 1105.1,871.2 1103.4,874.9 C1101.6,878.5 1100.2,881.8 1098.7,885.3 C1097.3,888.8 1095.4,892.4 1094.6,895.9 C1093.8,899.5 1093.9,902.9 1093.8,906.5 C1093.6,910.0 1094.1,913.5 1093.9,917.0 C1093.8,920.6 1093.1,924.2 1092.8,927.6 C1092.5,930.9 1092.4,933.8 1092.2,936.9 C1092.0,940.0 1092.0,943.2 1091.9,946.3 C1091.8,949.4 1091.8,954.1 1091.8,955.7" stroke-opacity="0.52" stroke-width="2.7"/>
<path d="M1149.0,857.3 C1148.9,858.8 1148.3,863.5 1148.3,866.6 C1148.3,869.8 1148.9,872.9 1148.8,876.0 C1148.7,879.2 1147.9,882.3 1148.0,885.4 C1148.0,888.5 1148.7,891.6 1149.1,894.8 C1149.4,897.9 1149.5,901.1 1149.9,904.2 C1150.3,907.3 1151.4,910.2 1151.5,913.5 C1151.6,916.8 1151.1,920.6 1150.7,924.1 C1150.3,927.6 1149.2,931.1 1149.0,934.6 C1148.9,938.1 1149.5,941.6 1149.8,945.1 C1150.1,948.6 1150.6,953.9 1150.8,955.7" stroke-opacity="0.12" stroke-width="6.2"/>
<path d="M1149.0,857.3 C1148.9,858.8 1148.3,863.5 1148.3,866.6 C1148.3,869.8 1148.9,872.9 1148.8,876.0 C1148.7,879.2 1147.9,882.3 1148.0,885.4 C1148.0,888.5 1148.7,891.6 1149.1,894.8 C1149.4,897.9 1149.5,901.1 1149.9,904.2 C1150.3,907.3 1151.4,910.2 1151.5,913.5 C1151.6,916.8 1151.1,920.6 1150.7,924.1 C1150.3,927.6 1149.2,931.1 1149.0,934.6 C1148.9,938.1 1149.5,941.6 1149.8,945.1 C1150.1,948.6 1150.6,953.9 1150.8,955.7" stroke-opacity="0.55" stroke-width="2.7"/>
<path d="M1180.7,850.3 C1180.7,851.8 1181.1,856.3 1181.1,859.4 C1181.2,862.4 1180.7,865.5 1180.9,868.6 C1181.0,871.6 1181.9,874.6 1182.1,877.7 C1182.3,880.7 1182.1,883.7 1182.2,886.8 C1182.2,889.8 1182.4,892.9 1182.4,895.9 C1182.5,899.0 1182.2,902.1 1182.5,905.1 C1182.7,908.1 1183.6,911.1 1183.9,914.2 C1184.2,917.2 1184.1,920.3 1184.2,923.3 C1184.2,926.4 1184.0,929.5 1184.2,932.5 C1184.4,935.5 1185.0,940.1 1185.2,941.6" stroke-opacity="0.12" stroke-width="6.2"/>
<path d="M1180.7,850.3 C1180.7,851.8 1181.1,856.3 1181.1,859.4 C1181.2,862.4 1180.7,865.5 1180.9,868.6 C1181.0,871.6 1181.9,874.6 1182.1,877.7 C1182.3,880.7 1182.1,883.7 1182.2,886.8 C1182.2,889.8 1182.4,892.9 1182.4,895.9 C1182.5,899.0 1182.2,902.1 1182.5,905.1 C1182.7,908.1 1183.6,911.1 1183.9,914.2 C1184.2,917.2 1184.1,920.3 1184.2,923.3 C1184.2,926.4 1184.0,929.5 1184.2,932.5 C1184.4,935.5 1185.0,940.1 1185.2,941.6" stroke-opacity="0.55" stroke-width="2.7"/>
<path d="M1212.3,852.0 C1212.4,853.6 1212.7,858.3 1212.8,861.5 C1213.0,864.7 1213.3,867.8 1213.3,871.0 C1213.3,874.1 1212.7,877.3 1212.8,880.5 C1212.9,883.7 1213.7,886.8 1213.9,890.0 C1214.1,893.1 1213.8,896.3 1214.0,899.4 C1214.2,902.6 1214.9,905.7 1215.0,908.9 C1215.2,912.1 1214.7,915.3 1214.9,918.5 C1215.2,921.6 1216.0,924.7 1216.4,927.9 C1216.7,931.0 1216.9,934.2 1217.1,937.4 C1217.3,940.5 1217.5,945.3 1217.5,946.9" stroke-opacity="0.11" stroke-width="6.2"/>
<path d="M1212.3,852.0 C1212.4,853.6 1212.7,858.3 1212.8,861.5 C1213.0,864.7 1213.3,867.8 1213.3,871.0 C1213.3,874.1 1212.7,877.3 1212.8,880.5 C1212.9,883.7 1213.7,886.8 1213.9,890.0 C1214.1,893.1 1213.8,896.3 1214.0,899.4 C1214.2,902.6 1214.9,905.7 1215.0,908.9 C1215.2,912.1 1214.7,915.3 1214.9,918.5 C1215.2,921.6 1216.0,924.7 1216.4,927.9 C1216.7,931.0 1216.9,934.2 1217.1,937.4 C1217.3,940.5 1217.5,945.3 1217.5,946.9" stroke-opacity="0.52" stroke-width="2.7"/>
<path d="M1247.4,871.3 C1247.3,873.1 1246.8,878.4 1246.7,881.9 C1246.6,885.4 1246.8,888.9 1246.9,892.4 C1247.0,895.9 1247.1,899.5 1247.0,903.0 C1246.9,906.5 1246.7,910.1 1246.3,913.5 C1246.0,916.9 1245.2,919.9 1244.9,923.1 C1244.5,926.3 1244.5,929.6 1244.3,932.8 C1244.1,936.1 1244.0,939.3 1243.6,942.5 C1243.2,945.7 1242.4,950.5 1242.1,952.1" stroke-opacity="0.26" stroke-width="2.2"/>
<path d="M1287.8,864.3 C1287.8,866.1 1288.0,871.4 1287.7,874.9 C1287.5,878.4 1286.6,881.9 1286.3,885.4 C1286.0,888.9 1286.3,892.1 1286.0,895.9 C1285.8,899.7 1285.3,904.1 1285.0,908.2 C1284.7,912.3 1284.1,916.7 1284.3,920.5 C1284.4,924.3 1285.6,927.5 1286.0,931.0 C1286.3,934.5 1286.0,938.1 1286.3,941.6 C1286.6,945.2 1287.4,948.7 1287.8,952.1 C1288.2,955.6 1288.2,958.8 1288.6,962.1 C1289.0,965.4 1289.8,968.7 1290.2,972.0 C1290.5,975.3 1290.5,980.3 1290.6,982.0" stroke-opacity="0.12" stroke-width="6.2"/>
<path d="M1287.8,864.3 C1287.8,866.1 1288.0,871.4 1287.7,874.9 C1287.5,878.4 1286.6,881.9 1286.3,885.4 C1286.0,888.9 1286.3,892.1 1286.0,895.9 C1285.8,899.7 1285.3,904.1 1285.0,908.2 C1284.7,912.3 1284.1,916.7 1284.3,920.5 C1284.4,924.3 1285.6,927.5 1286.0,931.0 C1286.3,934.5 1286.0,938.1 1286.3,941.6 C1286.6,945.2 1287.4,948.7 1287.8,952.1 C1288.2,955.6 1288.2,958.8 1288.6,962.1 C1289.0,965.4 1289.8,968.7 1290.2,972.0 C1290.5,975.3 1290.5,980.3 1290.6,982.0" stroke-opacity="0.55" stroke-width="2.7"/>
<path d="M1319.4,866.1 C1319.5,867.6 1319.6,872.2 1320.0,875.2 C1320.3,878.2 1321.3,881.2 1321.7,884.2 C1322.0,887.2 1321.7,890.3 1321.9,893.3 C1322.1,896.4 1322.2,899.4 1322.6,902.4 C1323.0,905.4 1324.0,908.4 1324.3,911.4 C1324.7,914.4 1324.5,917.3 1324.7,920.5 C1324.9,923.7 1325.4,927.2 1325.7,930.5 C1326.0,933.8 1326.2,937.2 1326.7,940.5 C1327.2,943.8 1328.3,947.0 1328.7,950.3 C1329.1,953.6 1328.9,957.0 1329.2,960.4 C1329.5,963.7 1329.8,967.0 1330.2,970.3 C1330.7,973.6 1331.5,978.6 1331.7,980.3" stroke-opacity="0.11" stroke-width="6.2"/>
<path d="M1319.4,866.1 C1319.5,867.6 1319.6,872.2 1320.0,875.2 C1320.3,878.2 1321.3,881.2 1321.7,884.2 C1322.0,887.2 1321.7,890.3 1321.9,893.3 C1322.1,896.4 1322.2,899.4 1322.6,902.4 C1323.0,905.4 1324.0,908.4 1324.3,911.4 C1324.7,914.4 1324.5,917.3 1324.7,920.5 C1324.9,923.7 1325.4,927.2 1325.7,930.5 C1326.0,933.8 1326.2,937.2 1326.7,940.5 C1327.2,943.8 1328.3,947.0 1328.7,950.3 C1329.1,953.6 1328.9,957.0 1329.2,960.4 C1329.5,963.7 1329.8,967.0 1330.2,970.3 C1330.7,973.6 1331.5,978.6 1331.7,980.3" stroke-opacity="0.52" stroke-width="2.7"/>
<path d="M1349.3,867.8 C1349.2,869.4 1349.0,874.1 1348.7,877.2 C1348.5,880.3 1347.9,883.4 1347.7,886.5 C1347.5,889.7 1347.3,892.3 1347.5,895.9 C1347.7,899.5 1348.5,904.1 1348.8,908.2 C1349.1,912.3 1349.3,916.9 1349.3,920.5 C1349.3,924.1 1349.0,926.8 1348.7,929.9 C1348.5,933.0 1347.9,936.1 1347.7,939.2 C1347.5,942.4 1347.8,945.5 1347.5,948.6 C1347.2,951.7 1346.5,954.8 1345.8,957.9 C1345.1,960.9 1344.2,963.9 1343.3,966.9 C1342.5,969.9 1341.4,972.9 1340.8,975.9 C1340.1,979.0 1340.1,982.2 1339.5,985.3 C1338.9,988.3 1337.4,992.8 1337.0,994.3" stroke-opacity="0.12" stroke-width="6.2"/>
<path d="M1349.3,867.8 C1349.2,869.4 1349.0,874.1 1348.7,877.2 C1348.5,880.3 1347.9,883.4 1347.7,886.5 C1347.5,889.7 1347.3,892.3 1347.5,895.9 C1347.7,899.5 1348.5,904.1 1348.8,908.2 C1349.1,912.3 1349.3,916.9 1349.3,920.5 C1349.3,924.1 1349.0,926.8 1348.7,929.9 C1348.5,933.0 1347.9,936.1 1347.7,939.2 C1347.5,942.4 1347.8,945.5 1347.5,948.6 C1347.2,951.7 1346.5,954.8 1345.8,957.9 C1345.1,960.9 1344.2,963.9 1343.3,966.9 C1342.5,969.9 1341.4,972.9 1340.8,975.9 C1340.1,979.0 1340.1,982.2 1339.5,985.3 C1338.9,988.3 1337.4,992.8 1337.0,994.3" stroke-opacity="0.55" stroke-width="2.7"/>
<path d="M1396.7,892.4 C1396.7,894.0 1396.7,898.9 1396.5,902.1 C1396.4,905.3 1396.3,908.5 1396.1,911.8 C1395.8,915.0 1395.1,918.2 1394.9,921.4 C1394.7,924.6 1395.1,927.8 1395.0,931.1 C1394.8,934.3 1394.3,937.5 1393.9,940.8 C1393.5,944.0 1393.1,947.2 1392.5,950.4 C1392.0,953.6 1391.0,956.8 1390.5,960.0 C1390.0,963.2 1389.8,968.1 1389.7,969.7" stroke-opacity="0.26" stroke-width="2.2"/>
<path d="M1424.8,878.4 C1424.8,880.0 1424.4,884.8 1424.5,888.0 C1424.6,891.3 1425.1,894.5 1425.3,897.7 C1425.5,900.9 1425.7,904.1 1425.7,907.3 C1425.8,910.6 1425.7,913.5 1425.5,917.0 C1425.4,920.6 1424.9,924.8 1424.8,928.7 C1424.8,932.6 1425.2,936.5 1425.2,940.4 C1425.2,944.3 1424.9,950.2 1424.8,952.1" stroke-opacity="0.30" stroke-width="2.2"/>
<path d="M1456.4,871.3 C1456.4,873.4 1456.3,879.6 1456.0,883.7 C1455.7,887.8 1455.2,891.0 1454.7,895.9 C1454.2,900.9 1452.8,908.5 1452.9,913.5 C1453.0,918.5 1454.3,921.8 1455.2,925.9 C1456.1,930.0 1457.6,933.9 1458.2,938.1 C1458.8,942.3 1458.5,946.9 1458.6,951.3 C1458.8,955.7 1459.1,962.2 1459.2,964.4" stroke-opacity="0.11" stroke-width="6.2"/>
<path d="M1456.4,871.3 C1456.4,873.4 1456.3,879.6 1456.0,883.7 C1455.7,887.8 1455.2,891.0 1454.7,895.9 C1454.2,900.9 1452.8,908.5 1452.9,913.5 C1453.0,918.5 1454.3,921.8 1455.2,925.9 C1456.1,930.0 1457.6,933.9 1458.2,938.1 C1458.8,942.3 1458.5,946.9 1458.6,951.3 C1458.8,955.7 1459.1,962.2 1459.2,964.4" stroke-opacity="0.52" stroke-width="2.7"/>
</g>
<g filter="url(#bl2)">
<ellipse cx="1112.8" cy="839.0" rx="6.6" ry="7.1" fill="#68a048"/>
<ellipse cx="1112.2" cy="838.2" rx="2.3" ry="2.5" fill="#c4dcae" opacity="0.5"/>
<ellipse cx="1122.7" cy="839.7" rx="6.6" ry="7.1" fill="#68a048"/>
<ellipse cx="1122.1" cy="838.9" rx="2.3" ry="2.5" fill="#c4dcae" opacity="0.5"/>
<ellipse cx="1117.4" cy="845.0" rx="5.1" ry="4.6" fill="#4a8239"/>
<ellipse cx="1154.3" cy="839.7" rx="5.1" ry="5.6" fill="#68a048"/>
<ellipse cx="1153.7" cy="838.9" rx="1.8" ry="1.9" fill="#c4dcae" opacity="0.5"/>
<ellipse cx="1151.8" cy="850.3" rx="6.1" ry="7.1" fill="#4a8239"/>
<ellipse cx="1237.9" cy="843.9" rx="6.6" ry="8.7" fill="#68a048"/>
<ellipse cx="1237.3" cy="843.1" rx="2.3" ry="3.0" fill="#c4dcae" opacity="0.5"/>
<ellipse cx="1252.7" cy="852.0" rx="6.6" ry="6.6" fill="#4a8239"/>
<ellipse cx="1242.1" cy="861.5" rx="7.1" ry="6.6" fill="#68a048"/>
<ellipse cx="1241.5" cy="860.7" rx="2.5" ry="2.3" fill="#c4dcae" opacity="0.5"/>
<ellipse cx="1256.9" cy="862.6" rx="6.1" ry="5.6" fill="#4a8239"/>
<ellipse cx="1286.0" cy="855.5" rx="7.6" ry="6.1" fill="#4a8239"/>
<ellipse cx="1282.5" cy="853.1" rx="4.6" ry="4.1" fill="#68a048"/>
<ellipse cx="1281.9" cy="852.3" rx="1.6" ry="1.4" fill="#c4dcae" opacity="0.5"/>
<ellipse cx="1316.6" cy="855.5" rx="4.6" ry="5.1" fill="#4a8239"/>
<ellipse cx="1317.7" cy="862.6" rx="4.1" ry="4.6" fill="#68a048"/>
<ellipse cx="1317.1" cy="861.8" rx="1.4" ry="1.6" fill="#c4dcae" opacity="0.5"/>
<ellipse cx="1344.0" cy="860.1" rx="7.1" ry="5.1" fill="#4a8239"/>
<ellipse cx="1352.8" cy="856.6" rx="6.1" ry="5.1" fill="#4a8239"/>
<ellipse cx="1361.6" cy="867.8" rx="6.1" ry="7.6" fill="#68a048"/>
<ellipse cx="1361.0" cy="867.0" rx="2.1" ry="2.6" fill="#c4dcae" opacity="0.5"/>
<ellipse cx="1379.1" cy="848.5" rx="7.1" ry="7.6" fill="#68a048"/>
<ellipse cx="1378.5" cy="847.7" rx="2.5" ry="2.6" fill="#c4dcae" opacity="0.5"/>
<ellipse cx="1378.4" cy="861.5" rx="7.6" ry="6.1" fill="#68a048"/>
<ellipse cx="1377.8" cy="860.7" rx="2.6" ry="2.1" fill="#c4dcae" opacity="0.5"/>
<ellipse cx="1374.9" cy="872.0" rx="6.6" ry="7.6" fill="#68a048"/>
<ellipse cx="1374.3" cy="871.2" rx="2.3" ry="2.6" fill="#c4dcae" opacity="0.5"/>
<ellipse cx="955.8" cy="839.7" rx="2.8" ry="2.8" fill="#e9ebe2"/>
<ellipse cx="956.9" cy="846.0" rx="2.5" ry="2.5" fill="#b9b54a"/>
<ellipse cx="992.0" cy="845.0" rx="3.5" ry="2.8" fill="#6b5238"/>
<ellipse cx="998.0" cy="843.2" rx="2.1" ry="2.1" fill="#e9ebe2"/>
<ellipse cx="1039.1" cy="842.5" rx="2.8" ry="3.2" fill="#e9ebe2"/>
<ellipse cx="1035.6" cy="846.0" rx="2.5" ry="2.5" fill="#6b5238"/>
<ellipse cx="1072.8" cy="840.4" rx="3.2" ry="3.2" fill="#e9ebe2"/>
<ellipse cx="1078.8" cy="846.8" rx="2.8" ry="2.8" fill="#e9ebe2"/>
<ellipse cx="1180.7" cy="842.5" rx="2.8" ry="3.5" fill="#e9ebe2"/>
<ellipse cx="1182.4" cy="847.5" rx="2.1" ry="2.1" fill="#b9b54a"/>
<ellipse cx="1214.7" cy="845.0" rx="2.8" ry="2.8" fill="#e9ebe2"/>
<ellipse cx="1211.2" cy="846.0" rx="2.1" ry="2.1" fill="#6b5238"/>
<ellipse cx="1417.1" cy="866.1" rx="2.8" ry="3.2" fill="#e9ebe2"/>
<ellipse cx="1424.8" cy="868.5" rx="3.2" ry="3.2" fill="#e9ebe2"/>
<ellipse cx="1420.6" cy="872.0" rx="2.1" ry="2.1" fill="#6b5238"/>
<ellipse cx="1445.9" cy="865.0" rx="3.2" ry="3.2" fill="#e9ebe2"/>
<ellipse cx="1452.2" cy="867.1" rx="2.8" ry="2.8" fill="#b9b54a"/>
</g>
</g>
<rect x="951.2" y="791.8" width="528.8" height="238.8" filter="url(#grain)" opacity="0.11"/>
<rect x="951.2" y="791.8" width="528.8" height="238.8" filter="url(#grain2)" opacity="0.3"/>
</g>
<g id="photo3">
<clipPath id="cp2"><rect x="404.2" y="1049.6" width="528.8" height="237.0"/></clipPath>
<rect x="404.2" y="1049.6" width="528.8" height="237.0" fill="url(#bgb)"/>
<rect x="404.2" y="1049.6" width="528.8" height="2.2" fill="#1d2c40" opacity="0.28"/>
<rect x="404.2" y="1284.6" width="528.8" height="2" fill="#1d2c40" opacity="0.18"/>
<rect x="404.2" y="1049.6" width="3.2" height="237.0" fill="#c8d2e0" opacity="0.28"/>
<g clip-path="url(#cp2)">
<g filter="url(#bl)" fill="none" stroke="#b3c3d9" stroke-width="2.7" stroke-linecap="round" stroke-linejoin="round">
<path d="M421.6,1103.2 C421.3,1105.0 420.1,1110.2 419.8,1113.7 C419.5,1117.2 419.3,1120.8 419.9,1124.3 C420.4,1127.8 422.4,1131.1 423.1,1134.6 C423.9,1138.2 423.9,1141.9 424.5,1145.4 C425.2,1148.9 426.8,1152.6 426.9,1155.9 C427.0,1159.3 425.4,1162.3 425.3,1165.5 C425.3,1168.8 426.7,1172.1 426.6,1175.3 C426.6,1178.5 425.4,1181.7 425.0,1184.9 C424.6,1188.1 424.3,1190.9 424.4,1194.6 C424.6,1198.3 425.2,1203.0 426.0,1207.1 C426.8,1211.2 428.8,1217.2 429.3,1219.2" stroke-opacity="0.13" stroke-width="7.1"/>
<path d="M421.6,1103.2 C421.3,1105.0 420.1,1110.2 419.8,1113.7 C419.5,1117.2 419.3,1120.8 419.9,1124.3 C420.4,1127.8 422.4,1131.1 423.1,1134.6 C423.9,1138.2 423.9,1141.9 424.5,1145.4 C425.2,1148.9 426.8,1152.6 426.9,1155.9 C427.0,1159.3 425.4,1162.3 425.3,1165.5 C425.3,1168.8 426.7,1172.1 426.6,1175.3 C426.6,1178.5 425.4,1181.7 425.0,1184.9 C424.6,1188.1 424.3,1190.9 424.4,1194.6 C424.6,1198.3 425.2,1203.0 426.0,1207.1 C426.8,1211.2 428.8,1217.2 429.3,1219.2" stroke-opacity="0.59" stroke-width="3.1"/>
<path d="M458.5,1101.5 C458.3,1103.2 457.9,1108.2 457.2,1111.5 C456.4,1114.8 454.6,1117.9 453.9,1121.2 C453.3,1124.5 452.8,1127.9 453.2,1131.3 C453.7,1134.8 455.8,1138.2 456.8,1141.7 C457.9,1145.2 458.6,1148.8 459.5,1152.3 C460.3,1155.9 461.6,1159.4 462.0,1163.0 C462.5,1166.5 461.6,1170.1 462.1,1173.6 C462.6,1177.1 464.5,1180.5 465.1,1184.0 C465.6,1187.5 465.5,1192.8 465.5,1194.6" stroke-opacity="0.12" stroke-width="7.1"/>
<path d="M458.5,1101.5 C458.3,1103.2 457.9,1108.2 457.2,1111.5 C456.4,1114.8 454.6,1117.9 453.9,1121.2 C453.3,1124.5 452.8,1127.9 453.2,1131.3 C453.7,1134.8 455.8,1138.2 456.8,1141.7 C457.9,1145.2 458.6,1148.8 459.5,1152.3 C460.3,1155.9 461.6,1159.4 462.0,1163.0 C462.5,1166.5 461.6,1170.1 462.1,1173.6 C462.6,1177.1 464.5,1180.5 465.1,1184.0 C465.6,1187.5 465.5,1192.8 465.5,1194.6" stroke-opacity="0.55" stroke-width="3.1"/>
<path d="M498.9,1105.0 C499.5,1106.9 501.5,1112.5 502.7,1116.3 C503.9,1120.1 504.7,1124.2 505.9,1127.8 C507.2,1131.5 509.0,1134.6 510.2,1138.1 C511.3,1141.6 512.4,1145.3 513.0,1148.9 C513.5,1152.5 513.0,1156.1 513.7,1159.6 C514.3,1163.1 516.0,1166.5 516.8,1169.9 C517.5,1173.4 518.1,1177.2 518.2,1180.5 C518.4,1183.9 518.4,1186.9 517.8,1190.0 C517.2,1193.1 515.3,1196.0 514.8,1199.1 C514.3,1202.2 514.8,1204.8 514.7,1208.6 C514.6,1212.4 514.5,1217.4 514.2,1221.8 C513.9,1226.2 513.2,1232.8 513.0,1235.0" stroke-opacity="0.13" stroke-width="7.1"/>
<path d="M498.9,1105.0 C499.5,1106.9 501.5,1112.5 502.7,1116.3 C503.9,1120.1 504.7,1124.2 505.9,1127.8 C507.2,1131.5 509.0,1134.6 510.2,1138.1 C511.3,1141.6 512.4,1145.3 513.0,1148.9 C513.5,1152.5 513.0,1156.1 513.7,1159.6 C514.3,1163.1 516.0,1166.5 516.8,1169.9 C517.5,1173.4 518.1,1177.2 518.2,1180.5 C518.4,1183.9 518.4,1186.9 517.8,1190.0 C517.2,1193.1 515.3,1196.0 514.8,1199.1 C514.3,1202.2 514.8,1204.8 514.7,1208.6 C514.6,1212.4 514.5,1217.4 514.2,1221.8 C513.9,1226.2 513.2,1232.8 513.0,1235.0" stroke-opacity="0.59" stroke-width="3.1"/>
<path d="M534.0,1101.5 C533.9,1103.0 533.1,1107.6 533.0,1110.7 C532.9,1113.8 533.3,1116.8 533.6,1119.9 C533.8,1123.0 534.6,1126.1 534.5,1129.2 C534.5,1132.2 534.2,1134.8 533.3,1138.4 C532.5,1141.9 530.4,1146.3 529.3,1150.4 C528.3,1154.5 527.1,1159.3 527.0,1163.0 C526.9,1166.6 527.9,1169.3 528.7,1172.3 C529.4,1175.4 530.9,1178.4 531.5,1181.5 C532.1,1184.6 532.6,1187.7 532.3,1191.1 C532.0,1194.4 530.2,1197.9 529.6,1201.5 C529.0,1205.0 529.1,1208.6 528.7,1212.1 C528.3,1215.7 527.3,1220.9 527.0,1222.7" stroke-opacity="0.12" stroke-width="7.1"/>
<path d="M534.0,1101.5 C533.9,1103.0 533.1,1107.6 533.0,1110.7 C532.9,1113.8 533.3,1116.8 533.6,1119.9 C533.8,1123.0 534.6,1126.1 534.5,1129.2 C534.5,1132.2 534.2,1134.8 533.3,1138.4 C532.5,1141.9 530.4,1146.3 529.3,1150.4 C528.3,1154.5 527.1,1159.3 527.0,1163.0 C526.9,1166.6 527.9,1169.3 528.7,1172.3 C529.4,1175.4 530.9,1178.4 531.5,1181.5 C532.1,1184.6 532.6,1187.7 532.3,1191.1 C532.0,1194.4 530.2,1197.9 529.6,1201.5 C529.0,1205.0 529.1,1208.6 528.7,1212.1 C528.3,1215.7 527.3,1220.9 527.0,1222.7" stroke-opacity="0.55" stroke-width="3.1"/>
<path d="M576.2,1105.0 C576.6,1106.7 578.3,1111.6 578.6,1115.0 C579.0,1118.3 578.1,1121.9 578.3,1125.3 C578.4,1128.7 579.1,1132.0 579.6,1135.4 C580.2,1138.7 580.9,1141.8 581.5,1145.4 C582.1,1149.0 583.1,1153.1 583.2,1157.1 C583.2,1161.0 582.0,1164.9 582.0,1168.8 C582.1,1172.8 583.5,1176.7 583.2,1180.5 C582.9,1184.3 581.0,1187.8 580.4,1191.5 C579.8,1195.3 580.3,1199.3 579.6,1203.0 C578.9,1206.7 576.8,1212.1 576.2,1213.9" stroke-opacity="0.12" stroke-width="7.1"/>
<path d="M576.2,1105.0 C576.6,1106.7 578.3,1111.6 578.6,1115.0 C579.0,1118.3 578.1,1121.9 578.3,1125.3 C578.4,1128.7 579.1,1132.0 579.6,1135.4 C580.2,1138.7 580.9,1141.8 581.5,1145.4 C582.1,1149.0 583.1,1153.1 583.2,1157.1 C583.2,1161.0 582.0,1164.9 582.0,1168.8 C582.1,1172.8 583.5,1176.7 583.2,1180.5 C582.9,1184.3 581.0,1187.8 580.4,1191.5 C579.8,1195.3 580.3,1199.3 579.6,1203.0 C578.9,1206.7 576.8,1212.1 576.2,1213.9" stroke-opacity="0.55" stroke-width="3.1"/>
<path d="M614.8,1106.8 C614.6,1108.8 613.4,1114.9 613.1,1119.0 C612.8,1123.1 612.3,1127.3 613.1,1131.3 C613.8,1135.4 616.4,1139.3 617.6,1143.4 C618.8,1147.5 619.8,1152.1 620.1,1155.9 C620.4,1159.8 619.7,1163.0 619.3,1166.5 C619.0,1170.0 618.3,1173.5 618.1,1177.0 C617.9,1180.5 618.6,1184.0 618.4,1187.6 C618.1,1191.1 617.4,1194.9 616.4,1198.4 C615.4,1201.9 613.4,1205.1 612.3,1208.6 C611.2,1212.0 610.0,1217.4 609.6,1219.2" stroke-opacity="0.13" stroke-width="7.1"/>
<path d="M614.8,1106.8 C614.6,1108.8 613.4,1114.9 613.1,1119.0 C612.8,1123.1 612.3,1127.3 613.1,1131.3 C613.8,1135.4 616.4,1139.3 617.6,1143.4 C618.8,1147.5 619.8,1152.1 620.1,1155.9 C620.4,1159.8 619.7,1163.0 619.3,1166.5 C619.0,1170.0 618.3,1173.5 618.1,1177.0 C617.9,1180.5 618.6,1184.0 618.4,1187.6 C618.1,1191.1 617.4,1194.9 616.4,1198.4 C615.4,1201.9 613.4,1205.1 612.3,1208.6 C611.2,1212.0 610.0,1217.4 609.6,1219.2" stroke-opacity="0.59" stroke-width="3.1"/>
<path d="M683.4,1105.0 C683.1,1106.7 682.6,1111.8 681.8,1115.1 C681.1,1118.5 679.3,1121.6 678.8,1125.0 C678.3,1128.4 679.3,1132.0 678.9,1135.4 C678.5,1138.8 676.9,1142.0 676.3,1145.4 C675.7,1148.8 675.9,1152.5 675.2,1156.0 C674.6,1159.5 673.0,1162.8 672.7,1166.3 C672.3,1169.9 673.5,1173.6 673.2,1177.1 C672.9,1180.7 671.5,1184.3 671.1,1187.6 C670.6,1190.8 671.0,1193.7 670.6,1196.7 C670.2,1199.7 668.7,1202.7 668.6,1205.7 C668.5,1208.8 669.8,1212.0 669.8,1215.0 C669.7,1218.1 668.8,1221.1 668.4,1224.1 C668.1,1227.1 667.7,1231.7 667.5,1233.2" stroke-opacity="0.13" stroke-width="7.1"/>
<path d="M683.4,1105.0 C683.1,1106.7 682.6,1111.8 681.8,1115.1 C681.1,1118.5 679.3,1121.6 678.8,1125.0 C678.3,1128.4 679.3,1132.0 678.9,1135.4 C678.5,1138.8 676.9,1142.0 676.3,1145.4 C675.7,1148.8 675.9,1152.5 675.2,1156.0 C674.6,1159.5 673.0,1162.8 672.7,1166.3 C672.3,1169.9 673.5,1173.6 673.2,1177.1 C672.9,1180.7 671.5,1184.3 671.1,1187.6 C670.6,1190.8 671.0,1193.7 670.6,1196.7 C670.2,1199.7 668.7,1202.7 668.6,1205.7 C668.5,1208.8 669.8,1212.0 669.8,1215.0 C669.7,1218.1 668.8,1221.1 668.4,1224.1 C668.1,1227.1 667.7,1231.7 667.5,1233.2" stroke-opacity="0.59" stroke-width="3.1"/>
<path d="M725.5,1117.3 C725.3,1118.9 724.7,1123.6 724.2,1126.7 C723.7,1129.9 723.3,1133.0 722.6,1136.1 C722.0,1139.3 720.8,1141.9 720.2,1145.4 C719.7,1148.9 719.1,1153.2 719.1,1157.1 C719.2,1161.0 720.5,1164.9 720.7,1168.8 C720.9,1172.7 720.3,1177.0 720.2,1180.5 C720.2,1184.0 720.6,1186.8 720.3,1189.9 C719.9,1193.0 718.3,1196.1 718.0,1199.2 C717.7,1202.3 718.6,1205.4 718.5,1208.6 C718.4,1211.8 717.9,1215.1 717.5,1218.4 C717.1,1221.6 716.9,1224.9 716.1,1228.0 C715.3,1231.2 713.5,1234.2 712.9,1237.4 C712.3,1240.7 712.6,1245.6 712.5,1247.3" stroke-opacity="0.13" stroke-width="7.1"/>
<path d="M725.5,1117.3 C725.3,1118.9 724.7,1123.6 724.2,1126.7 C723.7,1129.9 723.3,1133.0 722.6,1136.1 C722.0,1139.3 720.8,1141.9 720.2,1145.4 C719.7,1148.9 719.1,1153.2 719.1,1157.1 C719.2,1161.0 720.5,1164.9 720.7,1168.8 C720.9,1172.7 720.3,1177.0 720.2,1180.5 C720.2,1184.0 720.6,1186.8 720.3,1189.9 C719.9,1193.0 718.3,1196.1 718.0,1199.2 C717.7,1202.3 718.6,1205.4 718.5,1208.6 C718.4,1211.8 717.9,1215.1 717.5,1218.4 C717.1,1221.6 716.9,1224.9 716.1,1228.0 C715.3,1231.2 713.5,1234.2 712.9,1237.4 C712.3,1240.7 712.6,1245.6 712.5,1247.3" stroke-opacity="0.59" stroke-width="3.1"/>
<path d="M767.7,1120.8 C767.4,1122.7 766.3,1128.6 766.1,1132.5 C765.9,1136.4 766.6,1140.3 766.5,1144.2 C766.5,1148.1 766.1,1152.4 765.9,1155.9 C765.7,1159.5 766.1,1162.5 765.5,1165.7 C764.9,1168.9 762.9,1171.9 762.3,1175.1 C761.7,1178.3 762.3,1181.7 762.0,1184.9 C761.7,1188.2 760.9,1193.0 760.6,1194.6" stroke-opacity="0.26" stroke-width="2.5"/>
<path d="M804.6,1106.8 C804.9,1108.5 806.2,1113.7 806.5,1117.2 C806.8,1120.7 806.2,1124.5 806.3,1127.8 C806.5,1131.2 806.8,1134.2 807.4,1137.3 C807.9,1140.5 808.8,1143.5 809.5,1146.6 C810.2,1149.7 811.1,1152.6 811.6,1155.9 C812.0,1159.3 812.4,1163.0 812.1,1166.5 C811.8,1170.0 810.1,1173.5 809.7,1177.0 C809.3,1180.5 809.8,1183.7 809.8,1187.6 C809.9,1191.4 809.8,1195.8 810.0,1199.9 C810.2,1204.0 810.7,1210.1 810.9,1212.1" stroke-opacity="0.12" stroke-width="7.1"/>
<path d="M804.6,1106.8 C804.9,1108.5 806.2,1113.7 806.5,1117.2 C806.8,1120.7 806.2,1124.5 806.3,1127.8 C806.5,1131.2 806.8,1134.2 807.4,1137.3 C807.9,1140.5 808.8,1143.5 809.5,1146.6 C810.2,1149.7 811.1,1152.6 811.6,1155.9 C812.0,1159.3 812.4,1163.0 812.1,1166.5 C811.8,1170.0 810.1,1173.5 809.7,1177.0 C809.3,1180.5 809.8,1183.7 809.8,1187.6 C809.9,1191.4 809.8,1195.8 810.0,1199.9 C810.2,1204.0 810.7,1210.1 810.9,1212.1" stroke-opacity="0.55" stroke-width="3.1"/>
<path d="M820.4,1108.5 C819.2,1110.1 815.3,1114.6 813.3,1118.1 C811.3,1121.5 810.4,1125.6 808.4,1129.0 C806.3,1132.4 803.1,1135.3 801.0,1138.4 C799.0,1141.5 797.7,1144.5 796.0,1147.6 C794.4,1150.7 792.5,1153.6 791.0,1156.8 C789.5,1159.9 788.4,1163.3 787.0,1166.5 C785.6,1169.6 784.4,1172.9 782.6,1175.8 C780.9,1178.7 777.5,1182.7 776.4,1184.0" stroke-opacity="0.11" stroke-width="7.1"/>
<path d="M820.4,1108.5 C819.2,1110.1 815.3,1114.6 813.3,1118.1 C811.3,1121.5 810.4,1125.6 808.4,1129.0 C806.3,1132.4 803.1,1135.3 801.0,1138.4 C799.0,1141.5 797.7,1144.5 796.0,1147.6 C794.4,1150.7 792.5,1153.6 791.0,1156.8 C789.5,1159.9 788.4,1163.3 787.0,1166.5 C785.6,1169.6 784.4,1172.9 782.6,1175.8 C780.9,1178.7 777.5,1182.7 776.4,1184.0" stroke-opacity="0.52" stroke-width="3.1"/>
<path d="M837.9,1120.8 C837.9,1122.8 838.0,1128.6 837.7,1132.5 C837.4,1136.4 836.4,1140.3 836.2,1144.2 C836.1,1148.1 836.7,1152.2 836.9,1155.9 C837.1,1159.7 837.6,1163.0 837.6,1166.5 C837.5,1170.0 836.7,1173.5 836.5,1177.0 C836.2,1180.5 836.2,1185.8 836.2,1187.6" stroke-opacity="0.22" stroke-width="2.5"/>
<path d="M862.5,1103.2 C863.3,1104.5 866.0,1108.2 867.4,1110.9 C868.9,1113.5 868.9,1115.3 871.3,1119.0 C873.7,1122.8 879.0,1132.7 881.8,1133.1 C884.7,1133.5 886.1,1125.2 888.5,1121.4 C890.8,1117.6 894.7,1112.1 895.9,1110.3" stroke-opacity="0.10" stroke-width="7.1"/>
<path d="M862.5,1103.2 C863.3,1104.5 866.0,1108.2 867.4,1110.9 C868.9,1113.5 868.9,1115.3 871.3,1119.0 C873.7,1122.8 879.0,1132.7 881.8,1133.1 C884.7,1133.5 886.1,1125.2 888.5,1121.4 C890.8,1117.6 894.7,1112.1 895.9,1110.3" stroke-opacity="0.44" stroke-width="3.1"/>
<path d="M864.3,1127.8 C864.1,1129.4 863.4,1134.1 863.5,1137.2 C863.6,1140.3 864.7,1143.4 865.0,1146.6 C865.2,1149.7 864.9,1152.3 865.0,1155.9 C865.1,1159.6 865.6,1164.2 865.5,1168.3 C865.3,1172.4 864.5,1178.5 864.3,1180.5" stroke-opacity="0.22" stroke-width="2.5"/>
<path d="M892.4,1138.4 C892.4,1140.4 892.8,1146.6 892.5,1150.7 C892.3,1154.8 891.2,1158.9 890.6,1163.0 C890.0,1167.0 889.2,1171.1 888.9,1175.2 C888.6,1179.3 888.9,1185.5 888.9,1187.6" stroke-opacity="0.22" stroke-width="2.5"/>
<path d="M927.5,1120.8 C926.5,1122.8 923.4,1128.8 921.7,1132.9 C919.9,1137.0 917.1,1141.9 917.0,1145.4 C916.8,1148.9 919.8,1150.9 920.7,1153.9 C921.5,1156.8 922.7,1159.7 922.2,1163.0 C921.7,1166.2 919.1,1169.8 917.7,1173.3 C916.2,1176.8 914.8,1180.3 913.5,1183.8 C912.2,1187.4 911.2,1191.3 909.9,1194.6 C908.7,1197.9 907.8,1200.7 906.1,1203.5 C904.4,1206.2 901.7,1208.4 899.8,1211.0 C898.0,1213.7 896.5,1216.5 895.0,1219.3 C893.4,1222.1 891.3,1226.5 890.6,1228.0" stroke-opacity="0.11" stroke-width="7.1"/>
<path d="M927.5,1120.8 C926.5,1122.8 923.4,1128.8 921.7,1132.9 C919.9,1137.0 917.1,1141.9 917.0,1145.4 C916.8,1148.9 919.8,1150.9 920.7,1153.9 C921.5,1156.8 922.7,1159.7 922.2,1163.0 C921.7,1166.2 919.1,1169.8 917.7,1173.3 C916.2,1176.8 914.8,1180.3 913.5,1183.8 C912.2,1187.4 911.2,1191.3 909.9,1194.6 C908.7,1197.9 907.8,1200.7 906.1,1203.5 C904.4,1206.2 901.7,1208.4 899.8,1211.0 C898.0,1213.7 896.5,1216.5 895.0,1219.3 C893.4,1222.1 891.3,1226.5 890.6,1228.0" stroke-opacity="0.52" stroke-width="3.1"/>
</g>
<g filter="url(#bl2)">
<ellipse cx="425.1" cy="1075.1" rx="5.6" ry="6.1" fill="#68a048"/>
<ellipse cx="424.5" cy="1074.3" rx="1.9" ry="2.1" fill="#c4dcae" opacity="0.5"/>
<ellipse cx="433.9" cy="1083.9" rx="6.1" ry="6.1" fill="#4a8239"/>
<ellipse cx="427.9" cy="1096.2" rx="6.6" ry="6.1" fill="#4a8239"/>
<ellipse cx="423.4" cy="1085.7" rx="4.6" ry="4.6" fill="#335f2b"/>
<ellipse cx="488.4" cy="1099.7" rx="6.1" ry="6.1" fill="#68a048"/>
<ellipse cx="487.8" cy="1098.9" rx="2.1" ry="2.1" fill="#c4dcae" opacity="0.5"/>
<ellipse cx="498.9" cy="1089.9" rx="6.1" ry="5.6" fill="#4a8239"/>
<ellipse cx="509.4" cy="1089.2" rx="5.6" ry="5.1" fill="#4a8239"/>
<ellipse cx="534.0" cy="1091.3" rx="6.1" ry="4.6" fill="#4a8239"/>
<ellipse cx="544.6" cy="1092.0" rx="6.1" ry="4.6" fill="#68a048"/>
<ellipse cx="544.0" cy="1091.2" rx="2.1" ry="1.6" fill="#c4dcae" opacity="0.5"/>
<ellipse cx="565.7" cy="1095.5" rx="6.1" ry="5.6" fill="#68a048"/>
<ellipse cx="565.1" cy="1094.7" rx="2.1" ry="1.9" fill="#c4dcae" opacity="0.5"/>
<ellipse cx="576.2" cy="1091.6" rx="5.6" ry="5.6" fill="#4a8239"/>
<ellipse cx="583.9" cy="1096.9" rx="5.6" ry="5.6" fill="#68a048"/>
<ellipse cx="583.3" cy="1096.1" rx="1.9" ry="1.9" fill="#c4dcae" opacity="0.5"/>
<ellipse cx="606.1" cy="1090.9" rx="6.1" ry="5.1" fill="#68a048"/>
<ellipse cx="605.5" cy="1090.1" rx="2.1" ry="1.8" fill="#c4dcae" opacity="0.5"/>
<ellipse cx="618.4" cy="1089.2" rx="5.6" ry="5.6" fill="#4a8239"/>
<ellipse cx="624.7" cy="1096.2" rx="6.1" ry="5.6" fill="#68a048"/>
<ellipse cx="624.1" cy="1095.4" rx="2.1" ry="1.9" fill="#c4dcae" opacity="0.5"/>
<ellipse cx="681.6" cy="1092.7" rx="5.6" ry="5.6" fill="#4a8239"/>
<ellipse cx="692.1" cy="1096.2" rx="5.6" ry="5.6" fill="#68a048"/>
<ellipse cx="691.5" cy="1095.4" rx="1.9" ry="1.9" fill="#c4dcae" opacity="0.5"/>
<ellipse cx="723.8" cy="1092.7" rx="5.6" ry="5.6" fill="#4a8239"/>
<ellipse cx="737.1" cy="1094.5" rx="5.6" ry="5.6" fill="#68a048"/>
<ellipse cx="736.5" cy="1093.7" rx="1.9" ry="1.9" fill="#c4dcae" opacity="0.5"/>
<ellipse cx="730.8" cy="1110.3" rx="7.1" ry="7.1" fill="#68a048"/>
<ellipse cx="730.2" cy="1109.5" rx="2.5" ry="2.5" fill="#c4dcae" opacity="0.5"/>
<ellipse cx="762.4" cy="1090.9" rx="6.1" ry="5.6" fill="#68a048"/>
<ellipse cx="761.8" cy="1090.1" rx="2.1" ry="1.9" fill="#c4dcae" opacity="0.5"/>
<ellipse cx="769.4" cy="1105.0" rx="6.1" ry="5.6" fill="#68a048"/>
<ellipse cx="768.8" cy="1104.2" rx="2.1" ry="1.9" fill="#c4dcae" opacity="0.5"/>
<ellipse cx="760.6" cy="1100.4" rx="5.1" ry="5.1" fill="#4a8239"/>
<ellipse cx="794.0" cy="1090.9" rx="6.1" ry="5.6" fill="#68a048"/>
<ellipse cx="793.4" cy="1090.1" rx="2.1" ry="1.9" fill="#c4dcae" opacity="0.5"/>
<ellipse cx="806.3" cy="1087.4" rx="6.1" ry="5.6" fill="#68a048"/>
<ellipse cx="805.7" cy="1086.6" rx="2.1" ry="1.9" fill="#c4dcae" opacity="0.5"/>
<ellipse cx="794.0" cy="1101.5" rx="6.1" ry="5.6" fill="#68a048"/>
<ellipse cx="793.4" cy="1100.7" rx="2.1" ry="1.9" fill="#c4dcae" opacity="0.5"/>
<ellipse cx="845.0" cy="1096.2" rx="6.6" ry="6.6" fill="#68a048"/>
<ellipse cx="844.4" cy="1095.4" rx="2.3" ry="2.3" fill="#c4dcae" opacity="0.5"/>
<ellipse cx="833.4" cy="1112.0" rx="7.1" ry="6.6" fill="#68a048"/>
<ellipse cx="832.8" cy="1111.2" rx="2.5" ry="2.3" fill="#c4dcae" opacity="0.5"/>
<ellipse cx="829.1" cy="1106.0" rx="4.6" ry="4.6" fill="#4a8239"/>
<ellipse cx="906.4" cy="1100.4" rx="6.1" ry="4.6" fill="#4a8239"/>
<ellipse cx="930.3" cy="1099.7" rx="4.1" ry="7.1" fill="#68a048"/>
<ellipse cx="929.7" cy="1098.9" rx="1.4" ry="2.5" fill="#c4dcae" opacity="0.5"/>
<ellipse cx="460.3" cy="1092.0" rx="2.8" ry="3.2" fill="#e9ebe2"/>
<ellipse cx="456.8" cy="1092.7" rx="2.1" ry="2.5" fill="#26331f"/>
<ellipse cx="539.3" cy="1092.7" rx="2.5" ry="2.1" fill="#26331f"/>
<ellipse cx="686.9" cy="1094.5" rx="2.8" ry="2.8" fill="#26331f"/>
<ellipse cx="729.0" cy="1098.0" rx="2.1" ry="2.1" fill="#26331f"/>
<ellipse cx="862.5" cy="1096.2" rx="4.2" ry="2.1" fill="#26331f"/>
<ellipse cx="906.4" cy="1101.5" rx="2.5" ry="2.1" fill="#26331f"/>
<ellipse cx="495.4" cy="1094.5" rx="2.1" ry="2.1" fill="#26331f"/>
</g>
</g>
<rect x="404.2" y="1049.6" width="528.8" height="237.0" filter="url(#grain)" opacity="0.11"/>
<rect x="404.2" y="1049.6" width="528.8" height="237.0" filter="url(#grain2)" opacity="0.3"/>
</g>
<g id="photo4">
<clipPath id="cp3"><rect x="951.2" y="1049.6" width="528.8" height="238.7"/></clipPath>
<rect x="951.2" y="1049.6" width="528.8" height="238.7" fill="url(#bgb)"/>
<rect x="951.2" y="1049.6" width="528.8" height="2.2" fill="#1d2c40" opacity="0.28"/>
<rect x="951.2" y="1286.3" width="528.8" height="2" fill="#1d2c40" opacity="0.18"/>
<rect x="1468.0" y="1049.6" width="12" height="238.7" fill="#2c5a94" opacity="0.3"/>
<g clip-path="url(#cp3)">
<g filter="url(#bl)" fill="none" stroke="#b3c3d9" stroke-width="2.7" stroke-linecap="round" stroke-linejoin="round">
<path d="M982.2,1108.5 C982.0,1110.0 981.0,1114.6 981.1,1117.7 C981.2,1120.8 982.6,1123.9 982.7,1127.0 C982.8,1130.0 981.8,1133.1 981.6,1136.2 C981.4,1139.2 981.6,1142.2 981.5,1145.4 C981.3,1148.6 980.6,1152.0 980.9,1155.3 C981.1,1158.5 982.7,1161.8 982.9,1165.0 C983.1,1168.3 982.5,1171.6 982.3,1174.9 C982.1,1178.2 981.6,1181.5 981.7,1184.8 C981.8,1188.0 982.7,1191.0 982.9,1194.6 C983.0,1198.2 983.0,1202.5 982.6,1206.4 C982.2,1210.3 981.0,1214.1 980.5,1218.0 C979.9,1221.9 979.5,1227.8 979.3,1229.7" stroke-opacity="0.13" stroke-width="7.1"/>
<path d="M982.2,1108.5 C982.0,1110.0 981.0,1114.6 981.1,1117.7 C981.2,1120.8 982.6,1123.9 982.7,1127.0 C982.8,1130.0 981.8,1133.1 981.6,1136.2 C981.4,1139.2 981.6,1142.2 981.5,1145.4 C981.3,1148.6 980.6,1152.0 980.9,1155.3 C981.1,1158.5 982.7,1161.8 982.9,1165.0 C983.1,1168.3 982.5,1171.6 982.3,1174.9 C982.1,1178.2 981.6,1181.5 981.7,1184.8 C981.8,1188.0 982.7,1191.0 982.9,1194.6 C983.0,1198.2 983.0,1202.5 982.6,1206.4 C982.2,1210.3 981.0,1214.1 980.5,1218.0 C979.9,1221.9 979.5,1227.8 979.3,1229.7" stroke-opacity="0.59" stroke-width="3.1"/>
<path d="M1020.1,1106.8 C1020.1,1108.3 1020.3,1113.0 1020.0,1116.1 C1019.7,1119.3 1018.3,1122.3 1018.2,1125.4 C1018.1,1128.6 1019.3,1131.8 1019.3,1134.9 C1019.4,1138.0 1019.0,1141.1 1018.6,1144.2 C1018.2,1147.4 1017.0,1150.4 1016.8,1153.5 C1016.6,1156.7 1017.2,1159.9 1017.3,1163.0 C1017.4,1166.1 1017.6,1169.1 1017.6,1172.1 C1017.5,1175.2 1017.3,1178.2 1016.9,1181.2 C1016.5,1184.3 1015.3,1187.3 1015.3,1190.3 C1015.2,1193.4 1016.5,1196.5 1016.5,1199.5 C1016.6,1202.6 1015.7,1207.1 1015.5,1208.6" stroke-opacity="0.30" stroke-width="2.5"/>
<path d="M1061.2,1119.0 C1061.2,1121.7 1061.8,1130.8 1061.2,1134.9 C1060.6,1138.9 1058.8,1140.4 1057.6,1143.2 C1056.4,1146.0 1055.4,1148.8 1054.1,1151.5 C1052.8,1154.3 1050.3,1156.5 1049.6,1159.4 C1048.9,1162.3 1049.4,1165.8 1049.8,1168.9 C1050.3,1172.1 1051.7,1175.0 1052.2,1178.1 C1052.8,1181.3 1053.1,1184.2 1053.1,1187.6 C1053.2,1190.9 1053.2,1194.7 1052.6,1198.2 C1052.1,1201.7 1050.3,1205.0 1049.8,1208.5 C1049.3,1212.0 1049.6,1217.4 1049.6,1219.2" stroke-opacity="0.12" stroke-width="7.1"/>
<path d="M1061.2,1119.0 C1061.2,1121.7 1061.8,1130.8 1061.2,1134.9 C1060.6,1138.9 1058.8,1140.4 1057.6,1143.2 C1056.4,1146.0 1055.4,1148.8 1054.1,1151.5 C1052.8,1154.3 1050.3,1156.5 1049.6,1159.4 C1048.9,1162.3 1049.4,1165.8 1049.8,1168.9 C1050.3,1172.1 1051.7,1175.0 1052.2,1178.1 C1052.8,1181.3 1053.1,1184.2 1053.1,1187.6 C1053.2,1190.9 1053.2,1194.7 1052.6,1198.2 C1052.1,1201.7 1050.3,1205.0 1049.8,1208.5 C1049.3,1212.0 1049.6,1217.4 1049.6,1219.2" stroke-opacity="0.55" stroke-width="3.1"/>
<path d="M1096.3,1106.8 C1096.2,1108.4 1095.6,1113.3 1095.5,1116.6 C1095.5,1119.9 1095.9,1123.1 1096.2,1126.4 C1096.5,1129.7 1097.4,1133.0 1097.2,1136.3 C1097.1,1139.5 1095.7,1142.8 1095.5,1146.1 C1095.4,1149.4 1096.4,1152.7 1096.3,1155.9 C1096.2,1159.2 1095.2,1162.3 1094.9,1165.6 C1094.6,1168.8 1095.2,1172.2 1094.6,1175.4 C1094.0,1178.6 1092.2,1181.6 1091.6,1184.8 C1091.0,1188.0 1091.1,1191.3 1091.1,1194.6 C1091.1,1197.9 1091.2,1201.2 1091.6,1204.5 C1091.9,1207.8 1092.9,1211.1 1093.1,1214.4 C1093.3,1217.8 1092.9,1222.8 1092.8,1224.4" stroke-opacity="0.12" stroke-width="7.1"/>
<path d="M1096.3,1106.8 C1096.2,1108.4 1095.6,1113.3 1095.5,1116.6 C1095.5,1119.9 1095.9,1123.1 1096.2,1126.4 C1096.5,1129.7 1097.4,1133.0 1097.2,1136.3 C1097.1,1139.5 1095.7,1142.8 1095.5,1146.1 C1095.4,1149.4 1096.4,1152.7 1096.3,1155.9 C1096.2,1159.2 1095.2,1162.3 1094.9,1165.6 C1094.6,1168.8 1095.2,1172.2 1094.6,1175.4 C1094.0,1178.6 1092.2,1181.6 1091.6,1184.8 C1091.0,1188.0 1091.1,1191.3 1091.1,1194.6 C1091.1,1197.9 1091.2,1201.2 1091.6,1204.5 C1091.9,1207.8 1092.9,1211.1 1093.1,1214.4 C1093.3,1217.8 1092.9,1222.8 1092.8,1224.4" stroke-opacity="0.55" stroke-width="3.1"/>
<path d="M1138.5,1115.5 C1139.0,1117.2 1140.7,1122.0 1141.2,1125.3 C1141.7,1128.6 1141.1,1132.2 1141.5,1135.5 C1141.9,1138.9 1143.6,1141.8 1143.8,1145.4 C1143.9,1149.0 1142.5,1153.2 1142.4,1157.1 C1142.2,1161.0 1143.1,1165.0 1142.9,1168.9 C1142.7,1172.8 1141.7,1177.0 1141.0,1180.5 C1140.2,1184.1 1139.0,1186.9 1138.3,1190.1 C1137.6,1193.3 1137.0,1198.2 1136.7,1199.8" stroke-opacity="0.11" stroke-width="7.1"/>
<path d="M1138.5,1115.5 C1139.0,1117.2 1140.7,1122.0 1141.2,1125.3 C1141.7,1128.6 1141.1,1132.2 1141.5,1135.5 C1141.9,1138.9 1143.6,1141.8 1143.8,1145.4 C1143.9,1149.0 1142.5,1153.2 1142.4,1157.1 C1142.2,1161.0 1143.1,1165.0 1142.9,1168.9 C1142.7,1172.8 1141.7,1177.0 1141.0,1180.5 C1140.2,1184.1 1139.0,1186.9 1138.3,1190.1 C1137.6,1193.3 1137.0,1198.2 1136.7,1199.8" stroke-opacity="0.52" stroke-width="3.1"/>
<path d="M1166.6,1108.5 C1166.0,1110.7 1164.1,1117.1 1163.2,1121.5 C1162.3,1125.9 1160.9,1131.2 1161.3,1134.9 C1161.7,1138.5 1164.5,1140.4 1165.7,1143.3 C1166.9,1146.2 1167.8,1148.9 1168.4,1152.4 C1168.9,1155.9 1168.9,1160.2 1169.1,1164.1 C1169.3,1168.1 1169.1,1172.0 1169.5,1175.9 C1169.8,1179.8 1171.3,1183.5 1171.2,1187.6 C1171.1,1191.6 1170.0,1196.0 1168.9,1200.1 C1167.9,1204.2 1166.3,1208.7 1164.8,1212.1 C1163.4,1215.6 1161.8,1217.9 1160.3,1220.8 C1158.8,1223.8 1156.8,1228.2 1156.1,1229.7" stroke-opacity="0.13" stroke-width="7.1"/>
<path d="M1166.6,1108.5 C1166.0,1110.7 1164.1,1117.1 1163.2,1121.5 C1162.3,1125.9 1160.9,1131.2 1161.3,1134.9 C1161.7,1138.5 1164.5,1140.4 1165.7,1143.3 C1166.9,1146.2 1167.8,1148.9 1168.4,1152.4 C1168.9,1155.9 1168.9,1160.2 1169.1,1164.1 C1169.3,1168.1 1169.1,1172.0 1169.5,1175.9 C1169.8,1179.8 1171.3,1183.5 1171.2,1187.6 C1171.1,1191.6 1170.0,1196.0 1168.9,1200.1 C1167.9,1204.2 1166.3,1208.7 1164.8,1212.1 C1163.4,1215.6 1161.8,1217.9 1160.3,1220.8 C1158.8,1223.8 1156.8,1228.2 1156.1,1229.7" stroke-opacity="0.59" stroke-width="3.1"/>
<path d="M1210.5,1110.3 C1210.7,1111.8 1211.4,1116.3 1211.4,1119.4 C1211.5,1122.4 1210.6,1125.6 1211.0,1128.6 C1211.3,1131.6 1212.9,1134.6 1213.4,1137.6 C1213.8,1140.6 1213.4,1143.7 1213.5,1146.8 C1213.7,1149.8 1213.7,1152.6 1214.0,1155.9 C1214.3,1159.3 1214.5,1163.2 1215.4,1166.7 C1216.3,1170.2 1218.5,1173.4 1219.4,1176.9 C1220.4,1180.3 1220.8,1184.0 1221.1,1187.6 C1221.4,1191.1 1221.4,1194.6 1221.3,1198.1 C1221.1,1201.6 1220.0,1205.1 1220.1,1208.6 C1220.2,1212.1 1221.7,1215.7 1221.8,1219.2 C1222.0,1222.7 1222.0,1226.5 1221.1,1229.7 C1220.1,1232.9 1217.7,1235.7 1215.9,1238.6 C1214.2,1241.5 1211.4,1245.8 1210.5,1247.3" stroke-opacity="0.13" stroke-width="7.1"/>
<path d="M1210.5,1110.3 C1210.7,1111.8 1211.4,1116.3 1211.4,1119.4 C1211.5,1122.4 1210.6,1125.6 1211.0,1128.6 C1211.3,1131.6 1212.9,1134.6 1213.4,1137.6 C1213.8,1140.6 1213.4,1143.7 1213.5,1146.8 C1213.7,1149.8 1213.7,1152.6 1214.0,1155.9 C1214.3,1159.3 1214.5,1163.2 1215.4,1166.7 C1216.3,1170.2 1218.5,1173.4 1219.4,1176.9 C1220.4,1180.3 1220.8,1184.0 1221.1,1187.6 C1221.4,1191.1 1221.4,1194.6 1221.3,1198.1 C1221.1,1201.6 1220.0,1205.1 1220.1,1208.6 C1220.2,1212.1 1221.7,1215.7 1221.8,1219.2 C1222.0,1222.7 1222.0,1226.5 1221.1,1229.7 C1220.1,1232.9 1217.7,1235.7 1215.9,1238.6 C1214.2,1241.5 1211.4,1245.8 1210.5,1247.3" stroke-opacity="0.59" stroke-width="3.1"/>
<path d="M1242.1,1115.5 C1240.9,1117.2 1237.2,1122.2 1234.5,1125.5 C1231.9,1128.7 1227.5,1131.5 1226.3,1134.9 C1225.1,1138.2 1227.5,1141.8 1227.5,1145.4 C1227.5,1148.9 1226.4,1152.5 1226.5,1156.0 C1226.6,1159.5 1228.0,1163.2 1228.1,1166.5 C1228.1,1169.8 1227.2,1172.8 1226.7,1175.9 C1226.3,1179.1 1225.8,1182.2 1225.1,1185.3 C1224.5,1188.4 1223.3,1191.3 1222.8,1194.6 C1222.3,1197.9 1222.0,1201.7 1222.3,1205.2 C1222.5,1208.7 1223.7,1212.1 1224.1,1215.6 C1224.5,1219.1 1224.6,1222.7 1224.7,1226.2 C1224.8,1229.7 1224.6,1235.0 1224.6,1236.7" stroke-opacity="0.12" stroke-width="7.1"/>
<path d="M1242.1,1115.5 C1240.9,1117.2 1237.2,1122.2 1234.5,1125.5 C1231.9,1128.7 1227.5,1131.5 1226.3,1134.9 C1225.1,1138.2 1227.5,1141.8 1227.5,1145.4 C1227.5,1148.9 1226.4,1152.5 1226.5,1156.0 C1226.6,1159.5 1228.0,1163.2 1228.1,1166.5 C1228.1,1169.8 1227.2,1172.8 1226.7,1175.9 C1226.3,1179.1 1225.8,1182.2 1225.1,1185.3 C1224.5,1188.4 1223.3,1191.3 1222.8,1194.6 C1222.3,1197.9 1222.0,1201.7 1222.3,1205.2 C1222.5,1208.7 1223.7,1212.1 1224.1,1215.6 C1224.5,1219.1 1224.6,1222.7 1224.7,1226.2 C1224.8,1229.7 1224.6,1235.0 1224.6,1236.7" stroke-opacity="0.55" stroke-width="3.1"/>
<path d="M1279.0,1115.5 C1278.5,1117.2 1276.6,1122.0 1275.8,1125.3 C1275.0,1128.6 1275.0,1132.1 1274.4,1135.5 C1273.7,1138.8 1272.0,1141.8 1272.0,1145.4 C1272.0,1149.0 1274.1,1153.1 1274.6,1157.0 C1275.0,1160.9 1274.2,1165.0 1274.6,1168.9 C1275.1,1172.9 1276.7,1177.0 1277.3,1180.5 C1277.8,1184.0 1277.6,1186.8 1277.9,1189.9 C1278.2,1193.0 1279.1,1196.1 1279.3,1199.2 C1279.5,1202.3 1279.1,1205.3 1279.0,1208.6 C1278.9,1212.0 1278.5,1215.7 1278.7,1219.2 C1278.9,1222.7 1279.9,1226.2 1280.3,1229.7 C1280.6,1233.2 1280.7,1238.5 1280.8,1240.3" stroke-opacity="0.13" stroke-width="7.1"/>
<path d="M1279.0,1115.5 C1278.5,1117.2 1276.6,1122.0 1275.8,1125.3 C1275.0,1128.6 1275.0,1132.1 1274.4,1135.5 C1273.7,1138.8 1272.0,1141.8 1272.0,1145.4 C1272.0,1149.0 1274.1,1153.1 1274.6,1157.0 C1275.0,1160.9 1274.2,1165.0 1274.6,1168.9 C1275.1,1172.9 1276.7,1177.0 1277.3,1180.5 C1277.8,1184.0 1277.6,1186.8 1277.9,1189.9 C1278.2,1193.0 1279.1,1196.1 1279.3,1199.2 C1279.5,1202.3 1279.1,1205.3 1279.0,1208.6 C1278.9,1212.0 1278.5,1215.7 1278.7,1219.2 C1278.9,1222.7 1279.9,1226.2 1280.3,1229.7 C1280.6,1233.2 1280.7,1238.5 1280.8,1240.3" stroke-opacity="0.59" stroke-width="3.1"/>
<path d="M1317.7,1119.0 C1317.2,1120.8 1316.4,1126.0 1315.1,1129.3 C1313.8,1132.6 1311.4,1135.5 1310.0,1138.7 C1308.7,1142.0 1307.4,1145.4 1307.1,1148.9 C1306.9,1152.4 1307.8,1156.0 1308.6,1159.5 C1309.3,1163.0 1311.0,1166.3 1311.6,1169.8 C1312.2,1173.3 1312.4,1177.0 1312.4,1180.5 C1312.4,1184.1 1311.8,1187.6 1311.7,1191.1 C1311.7,1194.6 1312.0,1198.1 1312.1,1201.6 C1312.2,1205.1 1312.3,1208.6 1312.4,1212.1 C1312.5,1215.7 1313.1,1219.2 1312.8,1222.7 C1312.5,1226.2 1310.9,1229.7 1310.6,1233.2 C1310.2,1236.7 1310.6,1242.0 1310.6,1243.8" stroke-opacity="0.13" stroke-width="7.1"/>
<path d="M1317.7,1119.0 C1317.2,1120.8 1316.4,1126.0 1315.1,1129.3 C1313.8,1132.6 1311.4,1135.5 1310.0,1138.7 C1308.7,1142.0 1307.4,1145.4 1307.1,1148.9 C1306.9,1152.4 1307.8,1156.0 1308.6,1159.5 C1309.3,1163.0 1311.0,1166.3 1311.6,1169.8 C1312.2,1173.3 1312.4,1177.0 1312.4,1180.5 C1312.4,1184.1 1311.8,1187.6 1311.7,1191.1 C1311.7,1194.6 1312.0,1198.1 1312.1,1201.6 C1312.2,1205.1 1312.3,1208.6 1312.4,1212.1 C1312.5,1215.7 1313.1,1219.2 1312.8,1222.7 C1312.5,1226.2 1310.9,1229.7 1310.6,1233.2 C1310.2,1236.7 1310.6,1242.0 1310.6,1243.8" stroke-opacity="0.59" stroke-width="3.1"/>
<path d="M1349.3,1117.3 C1349.1,1118.8 1348.3,1123.3 1348.5,1126.3 C1348.6,1129.3 1350.0,1132.4 1350.0,1135.4 C1350.0,1138.4 1348.8,1141.4 1348.5,1144.4 C1348.2,1147.4 1347.9,1150.4 1348.0,1153.4 C1348.2,1156.4 1349.5,1159.5 1349.5,1162.5 C1349.5,1165.5 1348.3,1168.5 1348.1,1171.5 C1347.8,1174.5 1348.2,1177.3 1348.2,1180.5 C1348.3,1183.8 1348.0,1187.4 1348.5,1190.8 C1349.0,1194.2 1350.7,1197.5 1351.1,1200.9 C1351.4,1204.3 1350.7,1207.9 1350.7,1211.3 C1350.7,1214.7 1350.8,1218.2 1351.3,1221.6 C1351.9,1225.0 1353.5,1228.3 1353.9,1231.7 C1354.3,1235.1 1353.9,1240.3 1353.9,1242.0" stroke-opacity="0.13" stroke-width="7.1"/>
<path d="M1349.3,1117.3 C1349.1,1118.8 1348.3,1123.3 1348.5,1126.3 C1348.6,1129.3 1350.0,1132.4 1350.0,1135.4 C1350.0,1138.4 1348.8,1141.4 1348.5,1144.4 C1348.2,1147.4 1347.9,1150.4 1348.0,1153.4 C1348.2,1156.4 1349.5,1159.5 1349.5,1162.5 C1349.5,1165.5 1348.3,1168.5 1348.1,1171.5 C1347.8,1174.5 1348.2,1177.3 1348.2,1180.5 C1348.3,1183.8 1348.0,1187.4 1348.5,1190.8 C1349.0,1194.2 1350.7,1197.5 1351.1,1200.9 C1351.4,1204.3 1350.7,1207.9 1350.7,1211.3 C1350.7,1214.7 1350.8,1218.2 1351.3,1221.6 C1351.9,1225.0 1353.5,1228.3 1353.9,1231.7 C1354.3,1235.1 1353.9,1240.3 1353.9,1242.0" stroke-opacity="0.59" stroke-width="3.1"/>
<path d="M1384.4,1120.8 C1384.0,1122.6 1382.9,1127.9 1381.9,1131.4 C1380.8,1134.8 1379.0,1138.1 1378.3,1141.7 C1377.5,1145.2 1378.0,1149.1 1377.3,1152.6 C1376.6,1156.2 1374.4,1159.5 1373.9,1163.0 C1373.3,1166.4 1374.1,1170.0 1373.9,1173.5 C1373.8,1177.0 1372.9,1180.5 1373.0,1184.0 C1373.1,1187.6 1374.6,1191.1 1374.7,1194.6 C1374.9,1198.1 1374.1,1201.6 1373.9,1205.1 C1373.8,1208.6 1373.9,1213.9 1373.9,1215.7" stroke-opacity="0.26" stroke-width="2.5"/>
<path d="M1431.8,1131.3 C1431.9,1133.0 1432.1,1137.9 1432.0,1141.2 C1432.0,1144.5 1432.0,1147.8 1431.6,1151.0 C1431.2,1154.3 1429.9,1157.5 1429.8,1160.8 C1429.7,1164.1 1430.9,1167.4 1431.0,1170.7 C1431.0,1174.0 1430.2,1177.1 1430.1,1180.5 C1429.9,1183.9 1430.4,1187.6 1430.1,1191.1 C1429.8,1194.6 1428.3,1198.1 1428.2,1201.6 C1428.1,1205.1 1429.3,1208.6 1429.3,1212.2 C1429.4,1215.7 1429.2,1219.3 1428.3,1222.7 C1427.5,1226.1 1425.8,1229.3 1424.3,1232.5 C1422.9,1235.7 1420.3,1240.4 1419.5,1242.0" stroke-opacity="0.13" stroke-width="7.1"/>
<path d="M1431.8,1131.3 C1431.9,1133.0 1432.1,1137.9 1432.0,1141.2 C1432.0,1144.5 1432.0,1147.8 1431.6,1151.0 C1431.2,1154.3 1429.9,1157.5 1429.8,1160.8 C1429.7,1164.1 1430.9,1167.4 1431.0,1170.7 C1431.0,1174.0 1430.2,1177.1 1430.1,1180.5 C1429.9,1183.9 1430.4,1187.6 1430.1,1191.1 C1429.8,1194.6 1428.3,1198.1 1428.2,1201.6 C1428.1,1205.1 1429.3,1208.6 1429.3,1212.2 C1429.4,1215.7 1429.2,1219.3 1428.3,1222.7 C1427.5,1226.1 1425.8,1229.3 1424.3,1232.5 C1422.9,1235.7 1420.3,1240.4 1419.5,1242.0" stroke-opacity="0.59" stroke-width="3.1"/>
<path d="M1459.9,1122.6 C1459.9,1124.4 1459.4,1130.0 1459.6,1133.7 C1459.8,1137.4 1461.0,1141.1 1461.3,1144.8 C1461.7,1148.5 1461.4,1152.5 1461.7,1155.9 C1462.0,1159.4 1463.2,1162.3 1463.3,1165.5 C1463.5,1168.8 1462.3,1172.1 1462.5,1175.3 C1462.7,1178.6 1464.1,1181.7 1464.5,1184.9 C1465.0,1188.1 1465.1,1191.3 1465.2,1194.6 C1465.4,1197.8 1465.7,1201.1 1465.3,1204.3 C1465.0,1207.5 1463.3,1210.6 1463.0,1213.8 C1462.7,1217.1 1463.6,1220.3 1463.6,1223.6 C1463.6,1226.8 1462.9,1231.6 1462.8,1233.2" stroke-opacity="0.13" stroke-width="7.1"/>
<path d="M1459.9,1122.6 C1459.9,1124.4 1459.4,1130.0 1459.6,1133.7 C1459.8,1137.4 1461.0,1141.1 1461.3,1144.8 C1461.7,1148.5 1461.4,1152.5 1461.7,1155.9 C1462.0,1159.4 1463.2,1162.3 1463.3,1165.5 C1463.5,1168.8 1462.3,1172.1 1462.5,1175.3 C1462.7,1178.6 1464.1,1181.7 1464.5,1184.9 C1465.0,1188.1 1465.1,1191.3 1465.2,1194.6 C1465.4,1197.8 1465.7,1201.1 1465.3,1204.3 C1465.0,1207.5 1463.3,1210.6 1463.0,1213.8 C1462.7,1217.1 1463.6,1220.3 1463.6,1223.6 C1463.6,1226.8 1462.9,1231.6 1462.8,1233.2" stroke-opacity="0.59" stroke-width="3.1"/>
</g>
<g filter="url(#bl2)">
<ellipse cx="980.4" cy="1096.2" rx="6.1" ry="5.6" fill="#4a8239"/>
<ellipse cx="989.2" cy="1099.7" rx="5.6" ry="5.1" fill="#68a048"/>
<ellipse cx="988.6" cy="1098.9" rx="1.9" ry="1.8" fill="#c4dcae" opacity="0.5"/>
<ellipse cx="1020.8" cy="1094.5" rx="6.1" ry="5.1" fill="#4a8239"/>
<ellipse cx="1031.3" cy="1096.2" rx="5.6" ry="5.1" fill="#68a048"/>
<ellipse cx="1030.7" cy="1095.4" rx="1.9" ry="1.8" fill="#c4dcae" opacity="0.5"/>
<ellipse cx="1050.7" cy="1092.7" rx="6.1" ry="4.6" fill="#4a8239"/>
<ellipse cx="1061.2" cy="1094.8" rx="5.6" ry="4.6" fill="#68a048"/>
<ellipse cx="1060.6" cy="1094.0" rx="1.9" ry="1.6" fill="#c4dcae" opacity="0.5"/>
<ellipse cx="1052.4" cy="1108.5" rx="8.7" ry="9.2" fill="#8fc066"/>
<ellipse cx="1051.8" cy="1107.7" rx="3.0" ry="3.2" fill="#c4dcae" opacity="0.5"/>
<ellipse cx="1096.3" cy="1094.8" rx="5.6" ry="5.6" fill="#68a048"/>
<ellipse cx="1095.7" cy="1094.0" rx="1.9" ry="1.9" fill="#c4dcae" opacity="0.5"/>
<ellipse cx="1106.9" cy="1101.8" rx="6.1" ry="4.6" fill="#68a048"/>
<ellipse cx="1106.3" cy="1101.0" rx="2.1" ry="1.6" fill="#c4dcae" opacity="0.5"/>
<ellipse cx="1126.2" cy="1093.4" rx="6.1" ry="5.1" fill="#4a8239"/>
<ellipse cx="1135.0" cy="1088.1" rx="5.6" ry="5.1" fill="#4a8239"/>
<ellipse cx="1129.7" cy="1108.5" rx="5.6" ry="5.6" fill="#68a048"/>
<ellipse cx="1129.1" cy="1107.7" rx="1.9" ry="1.9" fill="#c4dcae" opacity="0.5"/>
<ellipse cx="1137.4" cy="1103.2" rx="4.6" ry="4.6" fill="#4a8239"/>
<ellipse cx="1168.4" cy="1096.2" rx="6.1" ry="4.6" fill="#68a048"/>
<ellipse cx="1167.8" cy="1095.4" rx="2.1" ry="1.6" fill="#c4dcae" opacity="0.5"/>
<ellipse cx="1180.7" cy="1096.2" rx="6.1" ry="5.1" fill="#8fc066"/>
<ellipse cx="1180.1" cy="1095.4" rx="2.1" ry="1.8" fill="#c4dcae" opacity="0.5"/>
<ellipse cx="1184.2" cy="1110.3" rx="5.1" ry="7.1" fill="#68a048"/>
<ellipse cx="1183.6" cy="1109.5" rx="1.8" ry="2.5" fill="#c4dcae" opacity="0.5"/>
<ellipse cx="1221.1" cy="1105.0" rx="6.6" ry="4.6" fill="#68a048"/>
<ellipse cx="1220.5" cy="1104.2" rx="2.3" ry="1.6" fill="#c4dcae" opacity="0.5"/>
<ellipse cx="1235.1" cy="1105.0" rx="6.6" ry="4.6" fill="#4a8239"/>
<ellipse cx="1249.2" cy="1098.0" rx="6.1" ry="6.1" fill="#68a048"/>
<ellipse cx="1248.6" cy="1097.2" rx="2.1" ry="2.1" fill="#c4dcae" opacity="0.5"/>
<ellipse cx="1252.7" cy="1106.8" rx="6.1" ry="4.6" fill="#68a048"/>
<ellipse cx="1252.1" cy="1106.0" rx="2.1" ry="1.6" fill="#c4dcae" opacity="0.5"/>
<ellipse cx="1280.8" cy="1098.0" rx="6.6" ry="6.1" fill="#68a048"/>
<ellipse cx="1280.2" cy="1097.2" rx="2.3" ry="2.1" fill="#c4dcae" opacity="0.5"/>
<ellipse cx="1292.0" cy="1105.0" rx="6.6" ry="5.1" fill="#68a048"/>
<ellipse cx="1291.4" cy="1104.2" rx="2.3" ry="1.8" fill="#c4dcae" opacity="0.5"/>
<ellipse cx="1287.8" cy="1113.8" rx="5.6" ry="5.1" fill="#68a048"/>
<ellipse cx="1287.2" cy="1113.0" rx="1.9" ry="1.8" fill="#c4dcae" opacity="0.5"/>
<ellipse cx="1308.9" cy="1101.5" rx="6.6" ry="5.1" fill="#68a048"/>
<ellipse cx="1308.3" cy="1100.7" rx="2.3" ry="1.8" fill="#c4dcae" opacity="0.5"/>
<ellipse cx="1320.1" cy="1099.7" rx="5.6" ry="5.1" fill="#4a8239"/>
<ellipse cx="1328.2" cy="1115.5" rx="6.6" ry="7.6" fill="#68a048"/>
<ellipse cx="1327.6" cy="1114.7" rx="2.3" ry="2.6" fill="#c4dcae" opacity="0.5"/>
<ellipse cx="1340.5" cy="1099.7" rx="6.1" ry="6.1" fill="#8fc066"/>
<ellipse cx="1339.9" cy="1098.9" rx="2.1" ry="2.1" fill="#c4dcae" opacity="0.5"/>
<ellipse cx="1347.5" cy="1110.3" rx="5.6" ry="6.1" fill="#4a8239"/>
<ellipse cx="1377.4" cy="1112.0" rx="6.1" ry="5.6" fill="#4a8239"/>
<ellipse cx="1389.7" cy="1102.2" rx="5.1" ry="6.6" fill="#4a8239"/>
<ellipse cx="1399.2" cy="1113.8" rx="6.1" ry="5.1" fill="#4a8239"/>
<ellipse cx="1426.6" cy="1105.0" rx="6.6" ry="5.1" fill="#68a048"/>
<ellipse cx="1426.0" cy="1104.2" rx="2.3" ry="1.8" fill="#c4dcae" opacity="0.5"/>
<ellipse cx="1435.4" cy="1122.6" rx="8.2" ry="8.2" fill="#8fc066"/>
<ellipse cx="1434.8" cy="1121.8" rx="2.8" ry="2.8" fill="#c4dcae" opacity="0.5"/>
<ellipse cx="1456.4" cy="1115.5" rx="6.1" ry="5.1" fill="#68a048"/>
<ellipse cx="1455.8" cy="1114.7" rx="2.1" ry="1.8" fill="#c4dcae" opacity="0.5"/>
<ellipse cx="1463.5" cy="1108.5" rx="5.1" ry="5.1" fill="#4a8239"/>
<ellipse cx="1474.7" cy="1113.8" rx="6.1" ry="5.1" fill="#68a048"/>
<ellipse cx="1474.1" cy="1113.0" rx="2.1" ry="1.8" fill="#c4dcae" opacity="0.5"/>
<ellipse cx="1208.8" cy="1098.0" rx="3.2" ry="3.2" fill="#b9b54a"/>
<ellipse cx="1211.2" cy="1102.5" rx="2.5" ry="2.5" fill="#26331f"/>
<ellipse cx="1387.9" cy="1111.3" rx="2.8" ry="2.5" fill="#26331f"/>
<ellipse cx="953.4" cy="1194.6" rx="1.8" ry="7.7" fill="#9fb4cf"/>
<ellipse cx="1023.6" cy="1096.9" rx="1.8" ry="1.8" fill="#26331f"/>
<ellipse cx="1131.5" cy="1099.7" rx="1.8" ry="1.8" fill="#26331f"/>
</g>
</g>
<rect x="951.2" y="1049.6" width="528.8" height="238.7" filter="url(#grain)" opacity="0.11"/>
<rect x="951.2" y="1049.6" width="528.8" height="238.7" filter="url(#grain2)" opacity="0.3"/>
</g>
<line x1="488.1" y1="1427.0" x2="488.1" y2="1860.4" stroke="#000" stroke-width="3.8"/>
<line x1="475.5" y1="1858.2" x2="1133.8" y2="1858.2" stroke="#000" stroke-width="4.4"/>
<line x1="475.5" y1="1428.8" x2="488.1" y2="1428.8" stroke="#000" stroke-width="3.6"/>
<text x="471.5" y="1440.2" font-size="32" text-anchor="end" class="b" textLength="50.7" lengthAdjust="spacingAndGlyphs">100</text>
<line x1="475.5" y1="1514.68" x2="488.1" y2="1514.68" stroke="#000" stroke-width="3.6"/>
<text x="471.5" y="1526.0800000000002" font-size="32" text-anchor="end" class="b" textLength="33.8" lengthAdjust="spacingAndGlyphs">80</text>
<line x1="475.5" y1="1600.56" x2="488.1" y2="1600.56" stroke="#000" stroke-width="3.6"/>
<text x="471.5" y="1611.96" font-size="32" text-anchor="end" class="b" textLength="33.8" lengthAdjust="spacingAndGlyphs">60</text>
<line x1="475.5" y1="1686.44" x2="488.1" y2="1686.44" stroke="#000" stroke-width="3.6"/>
<text x="471.5" y="1697.8400000000001" font-size="32" text-anchor="end" class="b" textLength="33.8" lengthAdjust="spacingAndGlyphs">40</text>
<line x1="475.5" y1="1772.3200000000002" x2="488.1" y2="1772.3200000000002" stroke="#000" stroke-width="3.6"/>
<text x="471.5" y="1783.7200000000003" font-size="32" text-anchor="end" class="b" textLength="33.8" lengthAdjust="spacingAndGlyphs">20</text>
<line x1="475.5" y1="1858.2" x2="488.1" y2="1858.2" stroke="#000" stroke-width="3.6"/>
<text x="471.5" y="1869.6000000000001" font-size="32" text-anchor="end" class="b" textLength="16.9" lengthAdjust="spacingAndGlyphs">0</text>
<text transform="translate(400.6,1783) rotate(-90)" font-size="34" class="b yl"><tspan x="0.0" y="0.0" textLength="99.6" lengthAdjust="spacingAndGlyphs">green</tspan> <tspan x="112.7" y="0.0" textLength="90.3" lengthAdjust="spacingAndGlyphs">score</tspan> <tspan x="212.5" y="0.0" textLength="63.5" lengthAdjust="spacingAndGlyphs">(%)</tspan></text>
<rect x="512.50" y="1428.80" width="113.00" height="429.40" fill="#000"/>
<rect x="518.50" y="1492.90" width="101.00" height="67.50" fill="#808080"/>
<rect x="518.50" y="1566.40" width="101.00" height="289.80" fill="#fff"/>
<rect x="673.10" y="1428.80" width="113.00" height="429.40" fill="#000"/>
<rect x="679.10" y="1530.50" width="101.00" height="23.00" fill="#808080"/>
<rect x="679.10" y="1559.50" width="101.00" height="296.70" fill="#fff"/>
<rect x="833.30" y="1428.80" width="113.60" height="429.40" fill="#000"/>
<rect x="839.30" y="1766.00" width="101.60" height="47.50" fill="#808080"/>
<rect x="839.30" y="1819.50" width="101.60" height="36.70" fill="#fff"/>
<rect x="994.20" y="1428.80" width="114.20" height="429.40" fill="#000"/>
<rect x="1000.20" y="1697.70" width="102.20" height="97.10" fill="#808080"/>
<rect x="1000.20" y="1800.80" width="102.20" height="55.40" fill="#fff"/>
<text x="566.9" y="1915" font-size="35" text-anchor="middle">Col-0</text>
<text x="729.7" y="1915" font-size="35" text-anchor="middle"><tspan class="i">cad1</tspan>-3</text>
<text x="890.8" y="1915" font-size="35" text-anchor="middle">Col-0</text>
<text x="1053.7" y="1915" font-size="35" text-anchor="middle"><tspan class="i">cad1</tspan>-3</text>
<line x1="513.3" y1="1942.3" x2="798.2" y2="1942.3" stroke="#000" stroke-width="3.6"/>
<line x1="829.6" y1="1942.3" x2="1117.2" y2="1942.3" stroke="#000" stroke-width="3.6"/>
<text x="664.1" y="1990.3" font-size="35.3" text-anchor="middle">0.3 mM CsCl</text>
<text x="977.3" y="1992.5" font-size="34.6" text-anchor="middle">100 <tspan font-family="'Liberation Serif',serif">μ</tspan>M GSH</text>
<text x="892.5" y="1419.3" font-size="51" text-anchor="middle" class="b" style="letter-spacing:3.6px">***</text>
<text x="1051.3" y="1419.3" font-size="51" text-anchor="middle" class="b" style="letter-spacing:3.6px">***</text>
<rect x="1174.80" y="1447.00" width="48.50" height="23.80" fill="#fff" stroke="#000" stroke-width="5.4" rx="4"/>
<rect x="1174.80" y="1518.50" width="48.50" height="23.50" fill="#808080" stroke="#000" stroke-width="5.4" rx="4"/>
<rect x="1172.10" y="1583.90" width="53.90" height="29.80" fill="#000" rx="5"/>
<text x="1247" y="1471" font-size="35" text-anchor="start">0</text>
<text x="1247" y="1541" font-size="35" text-anchor="start">1</text>
<text x="1247" y="1610" font-size="35" text-anchor="start">2</text>
</svg>
</body>
</html>
